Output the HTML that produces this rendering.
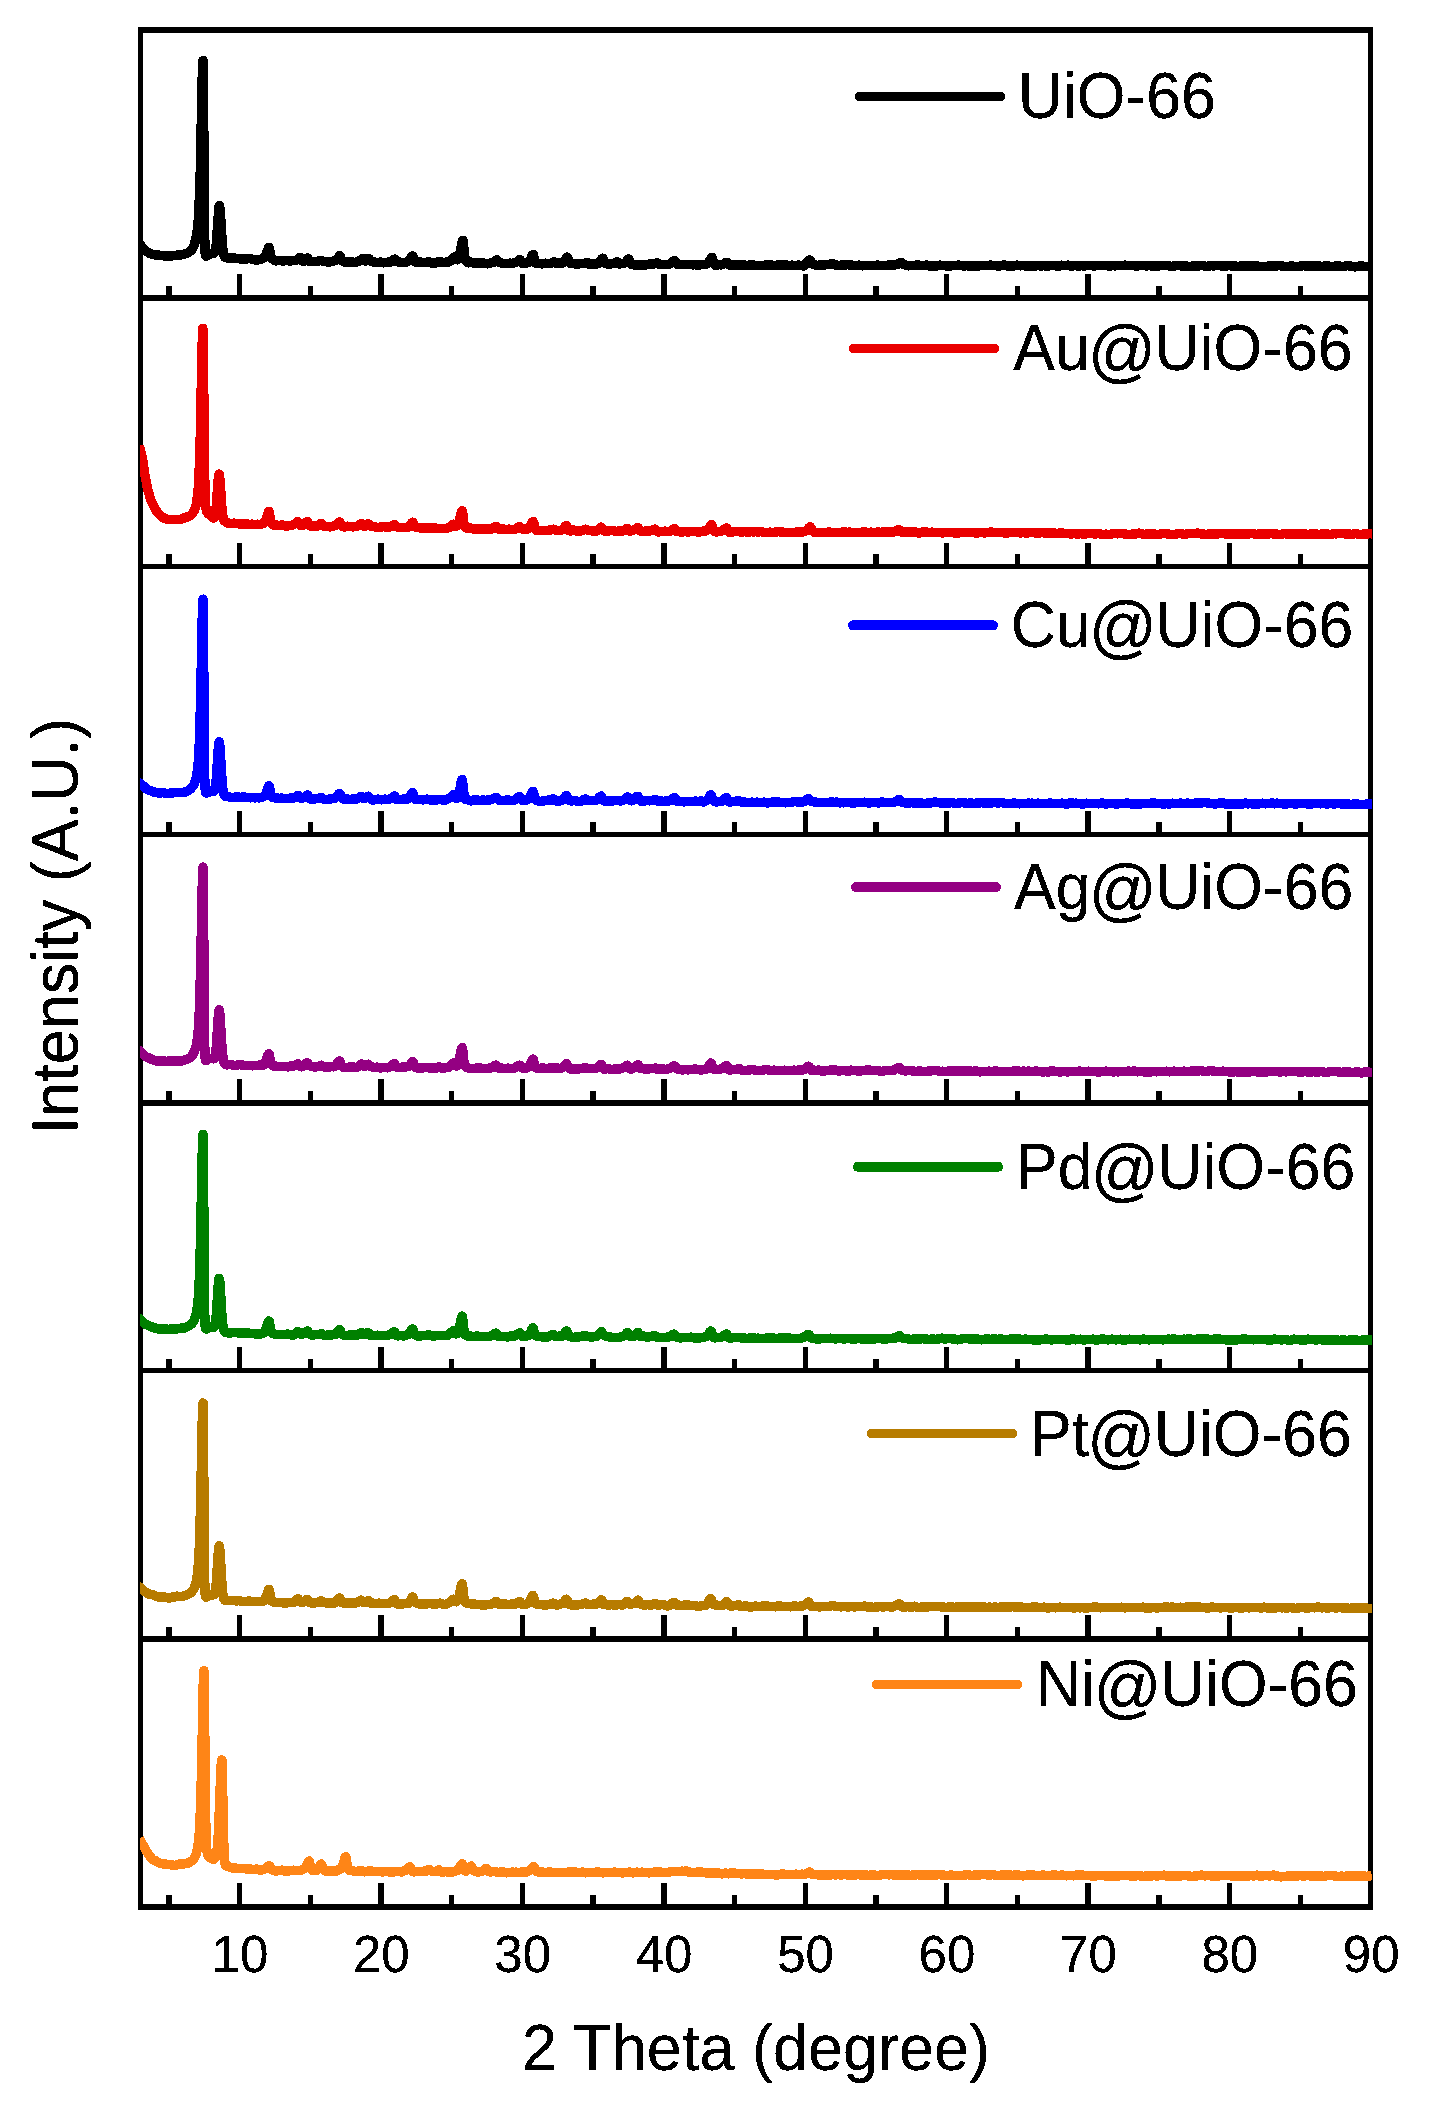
<!DOCTYPE html><html><head><meta charset="utf-8"><title>XRD patterns</title><style>html,body{margin:0;padding:0;background:#fff;overflow:hidden}svg{display:block}text{font-family:"Liberation Sans",Arial,sans-serif;fill:#000}</style></head><body>
<svg width="1437" height="2102" viewBox="0 0 1437 2102">
<defs><clipPath id="c"><rect x="140" y="0" width="1232" height="2102"/></clipPath><filter id="b" x="0" y="0" width="1" height="1"><feComponentTransfer><feFuncA type="discrete" tableValues="0 1 1"/></feComponentTransfer></filter></defs>
<rect width="1437" height="2102" fill="#fff"/>
<g fill="#000" shape-rendering="crispEdges">
<rect x="138" y="27" width="5" height="1883"/>
<rect x="1368" y="27" width="5" height="1883"/>
<rect x="138" y="27" width="1235" height="6"/>
<rect x="138" y="295" width="1235" height="6"/>
<rect x="138" y="564" width="1235" height="5"/>
<rect x="138" y="832" width="1235" height="5"/>
<rect x="138" y="1100" width="1235" height="6"/>
<rect x="138" y="1368" width="1235" height="5"/>
<rect x="138" y="1636" width="1235" height="6"/>
<rect x="138" y="1904" width="1235" height="6"/>
<rect x="166.2" y="286" width="5.4" height="9"/>
<rect x="236.9" y="274" width="5.4" height="21"/>
<rect x="307.6" y="286" width="5.4" height="9"/>
<rect x="378.3" y="274" width="5.4" height="21"/>
<rect x="449.0" y="286" width="5.4" height="9"/>
<rect x="519.7" y="274" width="5.4" height="21"/>
<rect x="590.4" y="286" width="5.4" height="9"/>
<rect x="661.1" y="274" width="5.4" height="21"/>
<rect x="731.8" y="286" width="5.4" height="9"/>
<rect x="802.5" y="274" width="5.4" height="21"/>
<rect x="873.2" y="286" width="5.4" height="9"/>
<rect x="943.9" y="274" width="5.4" height="21"/>
<rect x="1014.7" y="286" width="5.4" height="9"/>
<rect x="1085.4" y="274" width="5.4" height="21"/>
<rect x="1156.1" y="286" width="5.4" height="9"/>
<rect x="1226.8" y="274" width="5.4" height="21"/>
<rect x="1297.5" y="286" width="5.4" height="9"/>
<rect x="166.2" y="554" width="5.4" height="10"/>
<rect x="236.9" y="543" width="5.4" height="21"/>
<rect x="307.6" y="554" width="5.4" height="10"/>
<rect x="378.3" y="543" width="5.4" height="21"/>
<rect x="449.0" y="554" width="5.4" height="10"/>
<rect x="519.7" y="543" width="5.4" height="21"/>
<rect x="590.4" y="554" width="5.4" height="10"/>
<rect x="661.1" y="543" width="5.4" height="21"/>
<rect x="731.8" y="554" width="5.4" height="10"/>
<rect x="802.5" y="543" width="5.4" height="21"/>
<rect x="873.2" y="554" width="5.4" height="10"/>
<rect x="943.9" y="543" width="5.4" height="21"/>
<rect x="1014.7" y="554" width="5.4" height="10"/>
<rect x="1085.4" y="543" width="5.4" height="21"/>
<rect x="1156.1" y="554" width="5.4" height="10"/>
<rect x="1226.8" y="543" width="5.4" height="21"/>
<rect x="1297.5" y="554" width="5.4" height="10"/>
<rect x="166.2" y="822" width="5.4" height="10"/>
<rect x="236.9" y="811" width="5.4" height="21"/>
<rect x="307.6" y="822" width="5.4" height="10"/>
<rect x="378.3" y="811" width="5.4" height="21"/>
<rect x="449.0" y="822" width="5.4" height="10"/>
<rect x="519.7" y="811" width="5.4" height="21"/>
<rect x="590.4" y="822" width="5.4" height="10"/>
<rect x="661.1" y="811" width="5.4" height="21"/>
<rect x="731.8" y="822" width="5.4" height="10"/>
<rect x="802.5" y="811" width="5.4" height="21"/>
<rect x="873.2" y="822" width="5.4" height="10"/>
<rect x="943.9" y="811" width="5.4" height="21"/>
<rect x="1014.7" y="822" width="5.4" height="10"/>
<rect x="1085.4" y="811" width="5.4" height="21"/>
<rect x="1156.1" y="822" width="5.4" height="10"/>
<rect x="1226.8" y="811" width="5.4" height="21"/>
<rect x="1297.5" y="822" width="5.4" height="10"/>
<rect x="166.2" y="1091" width="5.4" height="9"/>
<rect x="236.9" y="1079" width="5.4" height="21"/>
<rect x="307.6" y="1091" width="5.4" height="9"/>
<rect x="378.3" y="1079" width="5.4" height="21"/>
<rect x="449.0" y="1091" width="5.4" height="9"/>
<rect x="519.7" y="1079" width="5.4" height="21"/>
<rect x="590.4" y="1091" width="5.4" height="9"/>
<rect x="661.1" y="1079" width="5.4" height="21"/>
<rect x="731.8" y="1091" width="5.4" height="9"/>
<rect x="802.5" y="1079" width="5.4" height="21"/>
<rect x="873.2" y="1091" width="5.4" height="9"/>
<rect x="943.9" y="1079" width="5.4" height="21"/>
<rect x="1014.7" y="1091" width="5.4" height="9"/>
<rect x="1085.4" y="1079" width="5.4" height="21"/>
<rect x="1156.1" y="1091" width="5.4" height="9"/>
<rect x="1226.8" y="1079" width="5.4" height="21"/>
<rect x="1297.5" y="1091" width="5.4" height="9"/>
<rect x="166.2" y="1359" width="5.4" height="9"/>
<rect x="236.9" y="1347" width="5.4" height="21"/>
<rect x="307.6" y="1359" width="5.4" height="9"/>
<rect x="378.3" y="1347" width="5.4" height="21"/>
<rect x="449.0" y="1359" width="5.4" height="9"/>
<rect x="519.7" y="1347" width="5.4" height="21"/>
<rect x="590.4" y="1359" width="5.4" height="9"/>
<rect x="661.1" y="1347" width="5.4" height="21"/>
<rect x="731.8" y="1359" width="5.4" height="9"/>
<rect x="802.5" y="1347" width="5.4" height="21"/>
<rect x="873.2" y="1359" width="5.4" height="9"/>
<rect x="943.9" y="1347" width="5.4" height="21"/>
<rect x="1014.7" y="1359" width="5.4" height="9"/>
<rect x="1085.4" y="1347" width="5.4" height="21"/>
<rect x="1156.1" y="1359" width="5.4" height="9"/>
<rect x="1226.8" y="1347" width="5.4" height="21"/>
<rect x="1297.5" y="1359" width="5.4" height="9"/>
<rect x="166.2" y="1627" width="5.4" height="9"/>
<rect x="236.9" y="1615" width="5.4" height="21"/>
<rect x="307.6" y="1627" width="5.4" height="9"/>
<rect x="378.3" y="1615" width="5.4" height="21"/>
<rect x="449.0" y="1627" width="5.4" height="9"/>
<rect x="519.7" y="1615" width="5.4" height="21"/>
<rect x="590.4" y="1627" width="5.4" height="9"/>
<rect x="661.1" y="1615" width="5.4" height="21"/>
<rect x="731.8" y="1627" width="5.4" height="9"/>
<rect x="802.5" y="1615" width="5.4" height="21"/>
<rect x="873.2" y="1627" width="5.4" height="9"/>
<rect x="943.9" y="1615" width="5.4" height="21"/>
<rect x="1014.7" y="1627" width="5.4" height="9"/>
<rect x="1085.4" y="1615" width="5.4" height="21"/>
<rect x="1156.1" y="1627" width="5.4" height="9"/>
<rect x="1226.8" y="1615" width="5.4" height="21"/>
<rect x="1297.5" y="1627" width="5.4" height="9"/>
<rect x="166.2" y="1895" width="5.4" height="9"/>
<rect x="236.9" y="1883" width="5.4" height="21"/>
<rect x="307.6" y="1895" width="5.4" height="9"/>
<rect x="378.3" y="1883" width="5.4" height="21"/>
<rect x="449.0" y="1895" width="5.4" height="9"/>
<rect x="519.7" y="1883" width="5.4" height="21"/>
<rect x="590.4" y="1895" width="5.4" height="9"/>
<rect x="661.1" y="1883" width="5.4" height="21"/>
<rect x="731.8" y="1895" width="5.4" height="9"/>
<rect x="802.5" y="1883" width="5.4" height="21"/>
<rect x="873.2" y="1895" width="5.4" height="9"/>
<rect x="943.9" y="1883" width="5.4" height="21"/>
<rect x="1014.7" y="1895" width="5.4" height="9"/>
<rect x="1085.4" y="1883" width="5.4" height="21"/>
<rect x="1156.1" y="1895" width="5.4" height="9"/>
<rect x="1226.8" y="1883" width="5.4" height="21"/>
<rect x="1297.5" y="1895" width="5.4" height="9"/>
</g>
<g clip-path="url(#c)" shape-rendering="crispEdges" fill="none" stroke-width="9.5" stroke-linejoin="round" stroke-linecap="butt">
<path d="M136.0,241.5 L138.4,243.5 L140.0,244.5 L146.0,251.1 L149.0,253.0 L153.2,254.7 L158.4,255.1 L160.6,255.5 L163.0,255.6 L165.2,256.0 L168.2,256.0 L170.2,255.8 L172.2,255.9 L175.0,255.4 L181.4,254.8 L186.8,253.3 L189.2,251.9 L191.2,250.4 L192.8,248.2 L194.0,245.6 L195.8,239.2 L197.2,230.9 L198.2,220.7 L199.0,207.6 L200.2,174.6 L202.2,79.8 L202.6,65.8 L203.0,60.6 L203.4,85.7 L204.6,235.0 L205.2,253.6 L205.6,255.9 L206.0,256.2 L211.0,253.6 L213.4,253.4 L214.0,253.2 L214.6,252.6 L215.2,251.2 L215.8,248.2 L216.4,243.1 L218.6,210.7 L219.0,206.9 L219.4,205.6 L219.8,207.1 L220.2,211.0 L222.6,247.5 L223.4,253.6 L223.8,255.3 L224.4,256.8 L225.2,257.4 L228.6,258.3 L232.4,257.8 L235.8,258.3 L238.0,258.3 L240.0,258.9 L242.2,258.8 L244.8,259.2 L249.8,258.3 L250.6,258.5 L252.6,259.5 L256.6,260.1 L257.8,260.0 L260.0,259.5 L263.2,258.3 L264.6,257.4 L265.8,255.6 L268.2,248.5 L268.6,247.7 L269.0,247.4 L269.4,248.4 L270.6,255.5 L271.4,257.9 L272.0,258.6 L274.2,260.2 L275.0,260.6 L276.0,260.8 L279.6,260.6 L281.8,260.8 L284.8,260.8 L287.2,260.4 L290.0,261.1 L292.2,260.7 L294.6,260.7 L296.8,260.0 L299.2,257.6 L300.0,257.3 L300.4,257.7 L301.8,260.4 L302.4,261.0 L303.0,261.3 L303.6,261.3 L304.2,261.0 L306.6,258.4 L307.4,258.1 L307.8,258.4 L309.2,261.1 L310.0,261.6 L312.6,261.3 L316.8,261.5 L319.4,260.6 L321.0,260.3 L321.6,260.4 L323.4,261.6 L325.6,261.6 L327.8,262.0 L329.0,262.1 L332.8,261.2 L336.2,260.2 L337.4,258.9 L339.2,256.0 L339.8,255.6 L340.2,256.2 L341.4,259.5 L342.0,260.5 L343.2,261.4 L345.0,262.1 L350.8,261.8 L354.2,262.4 L357.4,261.9 L359.4,261.1 L362.0,258.8 L362.8,258.3 L363.2,258.6 L364.4,260.5 L365.0,260.9 L366.0,260.8 L368.2,258.9 L369.0,258.6 L369.4,258.9 L370.6,260.8 L371.2,261.4 L376.6,262.6 L380.6,262.1 L383.8,262.8 L386.8,262.4 L388.8,262.0 L390.6,261.9 L391.8,261.3 L394.0,259.4 L394.8,259.1 L396.4,261.2 L397.2,261.7 L404.0,262.7 L406.4,262.0 L408.6,260.8 L409.6,259.8 L411.8,256.6 L412.4,256.1 L412.8,256.0 L413.2,256.6 L414.8,261.1 L415.4,261.8 L416.4,262.3 L417.4,262.3 L419.4,261.8 L423.6,262.6 L427.2,262.1 L430.0,262.2 L430.8,262.3 L432.6,263.3 L433.4,263.4 L435.0,263.1 L437.4,262.1 L441.2,261.7 L443.0,262.6 L443.8,262.7 L446.2,262.0 L449.0,261.8 L450.2,261.3 L451.6,260.2 L453.8,257.4 L454.8,256.8 L455.4,257.1 L457.0,259.7 L457.4,259.8 L458.0,259.5 L458.8,257.8 L459.6,255.1 L462.0,242.8 L462.4,241.2 L462.8,240.5 L463.0,240.5 L463.2,241.4 L464.4,254.0 L465.0,258.3 L465.6,260.4 L466.6,261.9 L467.6,262.6 L468.4,262.8 L471.2,262.2 L473.6,262.9 L477.2,263.2 L481.8,262.7 L487.6,263.8 L488.6,263.7 L490.6,262.9 L493.4,262.3 L494.4,261.8 L496.2,260.3 L497.0,259.9 L497.4,260.2 L498.4,261.7 L499.2,262.4 L503.6,263.5 L506.0,263.3 L508.0,263.6 L510.0,263.2 L511.8,263.4 L512.8,263.3 L516.6,262.1 L519.2,259.9 L520.0,259.6 L520.4,260.0 L521.6,262.4 L522.4,263.2 L523.4,263.4 L526.6,263.0 L528.2,262.4 L529.4,261.3 L530.4,259.6 L532.4,255.2 L532.8,254.7 L533.2,254.5 L533.6,255.4 L534.6,260.2 L535.2,262.1 L535.8,263.1 L536.6,263.5 L537.8,263.6 L540.0,263.4 L542.2,263.9 L545.6,263.2 L548.0,263.5 L550.0,263.4 L551.2,263.1 L553.2,262.0 L554.0,261.7 L554.4,261.9 L555.6,263.0 L556.2,263.2 L558.6,262.8 L561.2,263.2 L562.2,263.2 L563.0,262.8 L563.8,262.1 L566.2,258.0 L566.8,257.4 L567.2,257.2 L567.6,257.5 L569.2,262.2 L569.8,263.0 L570.8,263.5 L571.8,263.7 L574.0,263.3 L575.8,264.1 L576.6,264.2 L578.6,263.8 L582.2,263.7 L584.8,263.2 L586.8,262.4 L587.4,262.7 L589.0,264.4 L590.0,264.7 L590.8,264.6 L593.0,263.8 L596.6,264.0 L597.8,263.7 L599.2,262.5 L601.8,258.9 L602.8,258.3 L603.2,258.7 L604.4,262.0 L605.2,263.3 L606.2,263.8 L609.4,264.1 L610.4,264.0 L614.0,263.2 L617.0,261.9 L617.6,262.0 L618.8,263.5 L619.6,263.9 L624.4,263.1 L625.8,262.2 L627.8,259.5 L628.6,259.0 L629.0,259.4 L630.4,263.1 L631.2,264.1 L632.0,264.5 L635.6,265.1 L641.8,264.8 L645.0,265.1 L649.0,264.2 L652.6,264.2 L657.0,262.9 L659.2,264.1 L665.2,264.7 L667.2,264.3 L669.2,264.2 L670.2,263.8 L671.8,262.8 L673.8,260.8 L674.6,260.4 L676.6,263.8 L677.4,264.3 L678.6,264.6 L687.6,264.7 L690.4,264.5 L692.6,264.8 L695.2,264.7 L698.6,265.1 L703.8,264.3 L706.4,264.2 L707.2,263.9 L708.6,262.6 L711.2,258.0 L711.6,257.6 L712.0,257.5 L712.4,258.2 L714.0,263.9 L714.8,265.0 L715.8,265.3 L718.4,264.7 L720.8,264.8 L722.0,264.7 L723.0,264.3 L725.2,262.9 L726.6,262.5 L727.2,262.6 L729.0,264.9 L729.6,265.2 L730.8,265.3 L732.2,265.2 L736.2,264.7 L739.0,265.3 L741.8,264.8 L747.4,265.4 L749.6,265.0 L752.8,264.9 L755.6,265.4 L760.0,265.6 L764.8,265.3 L767.2,264.7 L769.6,265.1 L771.8,265.2 L774.4,265.7 L778.2,264.9 L780.4,265.2 L786.2,265.0 L789.0,265.6 L791.6,265.2 L795.8,265.4 L798.2,265.1 L800.8,265.4 L803.4,266.0 L804.6,265.4 L808.6,260.6 L809.2,260.2 L809.8,260.0 L810.4,260.3 L811.8,263.1 L812.6,264.1 L815.4,265.1 L817.4,265.5 L819.8,265.1 L822.4,265.3 L824.8,264.8 L828.4,264.7 L832.0,263.5 L832.4,263.5 L834.2,264.7 L838.6,265.5 L840.8,265.1 L843.0,265.2 L845.2,264.8 L848.2,264.7 L850.8,265.2 L856.6,265.4 L858.8,265.2 L862.6,265.8 L865.0,265.4 L868.6,265.3 L873.0,265.5 L877.2,265.2 L886.6,265.5 L889.6,264.7 L893.8,265.0 L897.4,264.3 L898.4,263.9 L901.0,262.3 L901.4,262.5 L902.6,263.8 L903.4,264.4 L908.4,265.8 L910.8,265.6 L912.8,265.7 L917.4,265.0 L919.6,265.3 L921.6,265.3 L923.8,265.6 L926.4,265.0 L929.0,265.8 L934.0,265.9 L936.2,266.1 L937.2,265.9 L939.8,265.1 L942.4,265.6 L947.0,265.9 L953.8,265.7 L959.0,265.1 L961.8,265.7 L963.6,265.9 L964.6,265.9 L966.6,265.5 L969.0,266.0 L973.6,265.8 L977.2,266.3 L978.0,266.2 L980.4,265.4 L983.4,265.7 L990.0,265.2 L993.2,265.3 L998.8,266.1 L1000.4,265.8 L1002.8,265.1 L1004.2,265.0 L1005.4,265.2 L1007.6,266.1 L1008.6,266.3 L1011.8,265.8 L1014.2,265.8 L1017.0,265.2 L1020.4,265.8 L1023.8,265.6 L1026.2,266.0 L1028.4,265.7 L1031.0,266.1 L1033.6,265.8 L1035.8,265.9 L1038.2,265.4 L1041.0,266.2 L1043.6,265.5 L1046.4,266.1 L1048.8,266.0 L1051.2,265.4 L1054.2,265.6 L1058.4,266.3 L1059.2,266.2 L1061.6,265.2 L1064.6,265.5 L1067.8,265.2 L1068.8,265.3 L1070.8,266.1 L1071.6,266.2 L1074.6,265.4 L1077.8,266.0 L1081.8,265.7 L1084.4,266.0 L1087.4,265.5 L1091.6,265.7 L1093.8,266.1 L1097.0,265.5 L1102.8,265.3 L1110.0,266.1 L1112.4,265.5 L1115.0,265.9 L1117.4,265.4 L1121.0,265.5 L1125.0,265.2 L1128.2,265.5 L1130.6,265.3 L1133.2,265.7 L1137.8,265.9 L1140.0,265.5 L1145.4,265.8 L1150.4,265.7 L1153.4,266.3 L1155.6,265.9 L1158.0,266.0 L1162.2,265.3 L1168.0,265.7 L1170.8,266.5 L1177.2,265.5 L1180.0,265.6 L1182.8,266.3 L1186.4,266.0 L1189.2,266.5 L1192.6,266.1 L1201.2,265.7 L1203.2,265.7 L1205.2,266.3 L1206.0,266.3 L1208.8,266.2 L1211.2,265.7 L1213.8,265.9 L1217.8,265.3 L1223.6,266.2 L1229.4,265.5 L1231.6,265.9 L1234.2,265.8 L1237.8,266.5 L1241.8,265.7 L1246.4,266.1 L1252.0,265.9 L1254.2,266.2 L1256.4,265.7 L1258.8,266.4 L1260.2,266.5 L1263.2,266.3 L1265.8,266.5 L1268.2,266.1 L1270.4,266.0 L1272.6,265.7 L1275.8,266.1 L1279.8,265.4 L1282.2,266.1 L1288.2,266.6 L1291.2,265.8 L1295.8,266.6 L1300.4,266.2 L1303.0,265.5 L1305.2,265.9 L1308.2,266.0 L1311.6,265.8 L1315.0,266.4 L1318.6,265.6 L1320.8,266.6 L1321.6,266.7 L1324.6,265.9 L1325.8,265.8 L1332.4,266.6 L1338.0,265.8 L1342.8,266.5 L1346.8,265.7 L1349.8,265.8 L1355.0,266.9 L1357.4,266.4 L1359.2,266.2 L1361.4,265.8 L1364.4,266.4 L1366.6,266.4 L1370.0,266.8 L1371.0,266.7 L1372.0,266.4" stroke="#000000"/>
<path d="M139.2,445.8 L142.4,458.0 L144.4,472.2 L147.6,489.0 L150.6,499.4 L154.0,506.9 L156.4,510.9 L158.0,513.2 L162.0,517.0 L166.0,519.0 L170.0,519.6 L173.6,519.7 L176.4,519.4 L178.6,519.5 L181.4,519.1 L183.6,518.1 L186.0,517.5 L188.2,516.4 L190.0,515.9 L191.4,514.6 L194.0,511.2 L195.0,509.0 L195.8,506.5 L197.0,500.3 L198.2,488.8 L199.0,475.6 L200.2,441.0 L202.2,343.5 L202.8,328.4 L203.0,329.4 L203.2,339.6 L204.6,473.7 L205.2,497.6 L205.6,504.8 L206.0,508.5 L206.8,511.7 L207.8,513.3 L209.8,514.8 L212.4,517.4 L213.2,518.0 L214.0,517.9 L214.8,516.5 L215.4,514.0 L216.0,509.5 L218.2,479.8 L218.8,474.7 L219.0,474.1 L219.2,474.2 L219.6,476.2 L220.0,480.3 L222.0,509.7 L223.0,517.7 L223.6,519.9 L224.4,521.1 L228.2,523.1 L229.6,523.6 L231.2,523.6 L234.2,523.1 L236.6,523.7 L240.0,523.8 L242.2,524.2 L244.4,523.8 L246.6,523.8 L249.4,524.5 L251.8,524.2 L255.6,524.4 L257.6,524.2 L259.6,524.6 L260.4,524.5 L263.6,523.4 L264.8,522.3 L266.0,519.7 L268.2,512.6 L268.6,511.8 L269.0,511.5 L269.4,512.6 L270.4,519.3 L271.2,522.9 L272.0,524.3 L272.6,524.8 L273.4,525.0 L276.0,524.9 L279.0,525.5 L282.2,524.9 L285.6,525.9 L290.2,525.7 L291.8,525.3 L293.8,524.3 L295.4,523.3 L297.0,521.9 L297.8,521.6 L298.2,521.9 L299.8,524.9 L300.8,525.6 L301.8,525.7 L302.8,525.4 L303.8,524.8 L306.4,522.1 L307.4,521.6 L307.8,521.9 L309.4,525.2 L310.2,526.0 L311.0,526.4 L314.0,525.8 L317.0,526.3 L318.0,525.8 L320.2,523.8 L321.2,523.4 L321.8,523.8 L323.0,525.5 L324.0,526.1 L330.0,526.8 L333.8,526.0 L336.0,525.3 L337.0,524.5 L338.8,522.2 L339.6,521.9 L340.0,522.1 L341.2,524.9 L341.8,525.8 L342.8,526.5 L344.4,526.9 L345.2,526.9 L347.6,526.2 L349.6,526.6 L353.0,526.8 L354.6,526.7 L357.6,525.9 L360.2,524.0 L361.2,523.6 L361.8,524.0 L363.2,525.9 L364.0,526.4 L365.0,526.1 L367.2,524.1 L368.2,523.8 L368.6,523.9 L369.6,525.3 L370.4,526.0 L375.0,526.9 L377.2,527.6 L383.6,526.7 L387.4,527.3 L388.6,527.3 L391.8,526.2 L394.4,524.6 L394.8,524.8 L396.2,526.5 L397.4,527.1 L400.2,527.6 L404.0,527.5 L406.2,527.6 L407.6,527.4 L408.8,526.7 L409.8,525.6 L411.6,523.0 L412.6,522.2 L412.8,522.3 L413.2,522.9 L414.6,526.3 L415.2,527.0 L415.8,527.3 L417.6,527.4 L421.2,528.0 L428.2,528.2 L434.0,527.9 L437.6,528.4 L443.2,528.7 L449.4,527.7 L450.4,527.0 L452.4,524.8 L453.4,524.2 L454.0,524.4 L455.2,525.8 L455.8,526.2 L456.6,526.2 L457.2,525.8 L458.0,524.7 L458.8,522.8 L461.4,512.2 L461.8,511.1 L462.2,510.7 L462.6,512.1 L464.0,523.7 L464.4,525.5 L465.0,527.0 L465.6,527.6 L466.8,528.1 L467.8,528.3 L471.0,528.2 L474.2,529.3 L476.8,528.7 L481.2,529.1 L483.6,528.7 L486.0,529.1 L492.2,528.8 L493.2,528.4 L495.0,526.7 L496.0,526.3 L496.6,526.7 L498.2,528.8 L499.6,529.4 L503.0,529.0 L506.0,529.5 L509.0,529.2 L514.4,529.5 L515.6,529.0 L518.4,527.1 L519.6,526.6 L520.0,526.8 L521.2,528.3 L522.0,528.8 L525.0,529.2 L526.8,529.2 L528.2,528.7 L529.4,527.6 L530.4,526.2 L532.4,522.2 L532.8,521.8 L533.2,521.7 L533.6,522.3 L535.2,528.9 L535.8,529.9 L536.4,530.3 L543.6,530.5 L549.6,530.2 L553.6,529.2 L556.8,530.5 L558.6,530.7 L561.0,530.1 L562.4,529.4 L563.6,528.3 L565.6,526.0 L566.4,525.6 L567.0,526.4 L568.4,529.9 L569.4,530.8 L570.6,530.9 L573.8,530.0 L576.0,530.8 L579.0,531.3 L580.2,531.1 L585.8,529.2 L587.8,530.1 L589.2,530.4 L591.8,530.8 L596.4,531.1 L597.2,530.9 L598.0,530.4 L600.2,527.7 L601.2,527.1 L601.6,527.3 L602.8,529.7 L603.6,530.7 L604.4,531.1 L606.4,531.5 L609.0,530.9 L611.6,530.5 L612.6,530.6 L616.4,531.4 L620.4,530.7 L623.0,530.9 L624.2,530.5 L626.6,528.6 L627.4,528.3 L627.8,528.6 L629.2,530.6 L629.8,531.0 L630.6,531.0 L634.0,530.0 L635.4,529.2 L637.2,527.6 L637.8,527.4 L638.2,527.7 L639.4,530.0 L640.0,530.8 L640.6,531.1 L642.8,531.4 L646.6,530.9 L649.2,531.1 L651.8,530.6 L652.8,530.2 L654.2,529.3 L655.0,529.1 L655.6,529.3 L657.4,531.4 L658.6,531.9 L664.4,531.2 L666.4,531.3 L669.2,531.6 L670.6,531.1 L673.2,529.0 L674.2,528.6 L674.8,528.9 L675.8,530.6 L676.6,531.3 L679.8,531.9 L682.4,532.0 L684.8,531.6 L688.0,532.0 L690.8,531.5 L694.0,531.5 L699.2,532.0 L701.2,531.7 L703.4,531.1 L705.4,531.0 L706.4,530.6 L708.4,528.9 L710.8,525.3 L711.6,524.7 L712.0,525.2 L713.6,530.2 L714.2,531.1 L715.2,531.7 L716.6,532.0 L718.8,531.4 L721.2,531.2 L722.4,530.6 L725.6,528.4 L726.4,528.1 L727.0,528.5 L728.6,531.7 L729.2,532.1 L730.2,532.3 L731.6,532.2 L734.0,531.6 L739.0,531.7 L741.6,532.3 L744.4,531.5 L747.4,532.4 L751.2,531.6 L753.6,531.9 L755.8,531.7 L758.2,531.9 L761.8,531.6 L764.4,532.5 L765.4,532.7 L767.8,532.6 L769.8,532.2 L772.0,532.4 L774.6,532.4 L777.6,531.6 L785.4,532.5 L789.2,532.7 L793.0,532.3 L802.2,532.1 L804.0,531.7 L806.4,530.5 L807.4,529.5 L809.0,527.6 L810.0,526.8 L810.6,527.2 L812.6,530.9 L813.8,532.0 L817.0,532.4 L819.6,532.3 L821.6,532.7 L823.4,532.3 L826.4,532.4 L829.0,532.0 L832.4,532.6 L834.6,532.4 L839.8,532.4 L844.2,531.8 L847.0,532.4 L849.8,532.1 L853.2,532.6 L860.6,532.5 L863.0,532.0 L864.6,531.9 L868.4,532.7 L871.0,532.2 L875.8,532.4 L878.0,531.9 L880.2,532.4 L882.6,532.0 L885.2,532.3 L888.6,531.9 L893.2,532.1 L895.0,531.7 L897.6,529.9 L898.6,529.6 L899.6,529.9 L901.4,531.8 L902.8,532.4 L906.4,532.0 L914.8,531.8 L915.8,532.0 L917.8,532.9 L919.2,533.1 L920.4,532.8 L922.4,531.9 L923.4,531.8 L929.6,532.4 L932.2,532.2 L937.6,532.6 L939.8,532.4 L942.4,532.9 L946.8,532.3 L952.2,532.4 L956.4,533.3 L961.2,532.4 L964.2,532.6 L967.6,532.3 L969.8,532.6 L972.0,532.6 L977.8,533.0 L980.8,532.4 L983.8,532.9 L987.6,532.6 L990.4,532.0 L993.2,532.4 L1000.0,532.4 L1006.2,533.1 L1011.2,532.3 L1013.8,532.6 L1018.0,532.3 L1020.4,532.9 L1022.6,532.6 L1025.0,532.9 L1028.2,532.8 L1030.2,532.5 L1031.6,532.4 L1033.0,532.5 L1034.8,532.9 L1037.0,532.8 L1038.8,533.0 L1041.4,532.5 L1043.2,532.8 L1045.2,532.8 L1047.6,533.2 L1051.8,533.2 L1054.4,533.0 L1057.0,533.4 L1059.8,533.1 L1067.8,533.4 L1071.6,534.1 L1074.0,533.4 L1076.6,534.1 L1080.0,533.7 L1085.0,534.0 L1088.0,533.3 L1091.0,533.7 L1093.4,533.7 L1095.4,534.0 L1098.6,533.5 L1102.8,534.6 L1106.0,534.1 L1108.6,534.6 L1113.8,533.4 L1117.4,533.8 L1121.4,533.3 L1125.2,534.1 L1129.8,534.5 L1133.2,533.9 L1136.0,533.9 L1138.8,533.1 L1140.0,533.3 L1142.8,534.2 L1144.0,534.4 L1147.2,534.0 L1149.8,534.3 L1152.4,533.7 L1155.4,534.2 L1158.6,534.4 L1162.8,533.5 L1166.8,533.8 L1170.2,534.3 L1175.0,534.3 L1179.6,533.4 L1181.8,533.7 L1184.8,534.5 L1189.6,533.3 L1194.4,533.7 L1197.2,533.1 L1199.2,533.4 L1201.4,534.0 L1203.4,534.1 L1206.2,534.5 L1208.8,533.9 L1211.2,534.1 L1213.4,533.8 L1215.8,534.3 L1219.0,533.7 L1221.2,533.7 L1223.0,533.5 L1223.8,533.6 L1226.4,534.4 L1229.2,533.9 L1233.0,534.3 L1235.2,534.1 L1237.2,534.3 L1239.4,533.8 L1247.0,534.2 L1249.4,533.7 L1251.8,533.4 L1255.6,534.4 L1261.2,534.0 L1266.8,534.0 L1271.6,533.6 L1274.4,534.1 L1277.2,534.2 L1279.6,534.7 L1282.8,533.8 L1284.4,533.6 L1288.2,534.3 L1291.6,533.7 L1294.2,534.3 L1296.2,534.0 L1297.8,534.1 L1299.8,533.9 L1302.0,534.3 L1305.6,534.0 L1308.2,534.6 L1311.0,533.8 L1314.0,533.8 L1319.8,534.6 L1323.6,533.6 L1325.6,533.9 L1327.6,534.0 L1330.0,534.5 L1334.0,533.7 L1336.0,533.8 L1338.0,533.5 L1343.8,533.4 L1344.6,533.5 L1346.0,534.3 L1346.8,534.5 L1349.2,534.0 L1351.8,534.4 L1354.0,533.7 L1356.0,533.6 L1357.0,533.7 L1358.6,534.5 L1359.4,534.7 L1364.4,533.9 L1366.4,534.1 L1369.4,533.6 L1372.0,533.8" stroke="#EA0000"/>
<path d="M136.0,781.1 L137.2,781.8 L140.0,783.1 L141.6,784.8 L144.0,786.4 L146.0,788.5 L147.4,789.5 L148.4,790.0 L150.8,790.8 L153.0,791.9 L155.6,792.3 L157.6,792.9 L163.0,792.7 L166.2,793.6 L167.4,793.7 L170.2,793.2 L172.6,793.0 L176.2,792.3 L178.6,792.3 L182.0,792.6 L186.4,791.8 L189.0,790.2 L190.8,788.7 L193.6,785.1 L194.8,782.6 L196.4,776.9 L197.6,769.3 L198.4,760.5 L199.2,746.4 L200.6,701.2 L202.4,611.1 L202.8,600.7 L203.0,599.2 L203.4,624.1 L204.4,757.2 L204.8,781.3 L205.0,787.1 L205.4,791.9 L205.8,792.9 L206.2,793.0 L207.8,792.6 L210.8,791.1 L211.6,791.1 L213.6,791.6 L214.4,790.9 L215.0,789.3 L215.6,786.1 L216.2,780.7 L218.4,746.9 L218.8,742.9 L219.2,741.6 L219.6,743.1 L220.0,747.1 L222.2,783.0 L222.8,789.1 L223.4,792.8 L224.2,795.3 L225.0,796.2 L225.6,796.4 L228.0,796.3 L231.0,797.5 L232.2,797.5 L235.8,797.0 L240.2,797.3 L244.6,797.0 L247.2,797.6 L250.4,797.8 L252.8,797.6 L255.0,797.9 L256.8,797.6 L259.2,797.8 L263.2,796.8 L264.6,795.8 L265.8,794.1 L266.8,791.6 L268.2,787.0 L268.6,786.1 L269.0,785.7 L269.4,786.7 L270.8,794.7 L271.6,796.8 L272.2,797.3 L272.8,797.5 L276.0,798.0 L279.0,798.3 L281.8,798.2 L284.6,798.5 L289.0,798.4 L291.2,798.0 L293.2,798.3 L295.6,797.2 L297.4,795.7 L298.0,795.4 L300.0,797.8 L300.8,798.3 L301.6,798.4 L304.0,797.5 L306.6,795.4 L307.4,795.0 L307.8,795.3 L309.4,798.0 L310.2,798.7 L311.2,799.1 L315.0,798.9 L317.2,798.3 L319.6,798.2 L321.4,797.7 L324.0,799.1 L325.8,799.5 L330.2,799.0 L332.4,798.4 L335.0,798.2 L336.4,797.1 L338.6,794.0 L339.6,793.4 L340.0,793.8 L341.0,796.5 L341.8,798.0 L342.8,798.8 L344.0,799.1 L347.0,799.0 L349.6,799.5 L352.8,799.0 L354.8,799.4 L355.8,799.4 L357.0,798.9 L360.0,796.9 L361.4,796.4 L363.2,798.2 L363.8,798.5 L364.6,798.5 L365.8,798.0 L367.6,796.6 L368.4,796.2 L368.8,796.5 L370.6,798.9 L371.6,799.7 L372.6,800.1 L378.2,799.1 L381.4,799.8 L385.0,799.2 L388.0,799.6 L389.0,799.3 L391.2,798.3 L393.6,796.3 L394.4,795.9 L394.8,796.3 L396.0,798.7 L396.6,799.3 L397.2,799.5 L400.6,799.6 L403.2,799.2 L407.2,799.0 L408.4,798.7 L409.2,798.1 L409.8,797.3 L411.8,793.5 L412.6,792.7 L412.8,792.7 L413.2,793.6 L414.2,797.1 L414.8,798.5 L415.4,799.2 L416.2,799.5 L418.0,799.7 L420.2,799.3 L423.0,799.8 L427.0,799.2 L430.6,800.0 L433.2,799.9 L435.6,800.1 L439.8,799.4 L442.2,800.0 L445.2,800.1 L446.6,799.7 L450.2,797.5 L451.2,796.7 L452.8,795.0 L453.6,794.5 L454.0,794.8 L455.4,797.3 L456.0,798.1 L456.8,798.3 L457.4,798.0 L458.2,796.5 L458.8,794.6 L461.2,782.1 L461.8,779.9 L462.2,779.5 L462.6,781.1 L464.0,794.6 L464.8,798.2 L465.2,799.0 L465.8,799.5 L468.4,799.9 L471.0,800.9 L471.8,800.8 L473.8,799.7 L474.8,799.5 L479.4,800.6 L482.4,800.1 L485.2,800.3 L489.8,800.0 L491.6,799.5 L494.6,797.8 L496.2,797.3 L496.6,797.5 L498.2,799.6 L500.0,800.5 L504.8,800.4 L507.6,800.0 L510.4,800.4 L512.8,800.5 L514.0,800.2 L516.2,799.0 L518.6,796.8 L519.4,796.5 L520.0,796.9 L521.0,799.0 L521.8,800.1 L522.6,800.4 L525.2,800.5 L528.0,799.4 L529.2,798.4 L530.2,796.7 L532.2,792.1 L532.6,791.6 L533.0,791.5 L533.4,792.3 L534.6,797.5 L535.4,799.4 L536.8,800.4 L539.4,801.4 L540.4,801.5 L547.8,800.2 L550.2,800.4 L552.2,799.2 L553.2,799.0 L553.8,799.1 L555.2,800.5 L556.2,801.0 L557.0,801.1 L560.8,800.8 L562.2,800.2 L563.2,799.6 L564.0,798.6 L565.6,796.1 L566.2,795.5 L566.6,795.4 L568.4,799.2 L569.0,799.8 L570.0,800.5 L571.6,800.9 L574.6,800.6 L576.6,801.1 L580.2,801.5 L581.6,801.1 L584.2,799.3 L585.2,799.0 L585.8,799.1 L587.2,800.4 L588.0,800.7 L592.4,800.3 L595.6,800.5 L597.0,799.8 L600.0,796.7 L601.2,796.0 L601.8,796.7 L603.4,800.2 L604.2,800.9 L605.0,801.1 L607.2,800.9 L612.0,801.0 L614.6,800.6 L618.4,800.4 L620.6,800.9 L621.4,800.8 L624.2,799.6 L626.6,797.5 L627.4,797.1 L627.8,797.4 L629.6,800.2 L630.4,800.7 L631.4,800.8 L632.4,800.4 L634.2,799.2 L636.8,796.6 L637.6,796.3 L638.2,796.6 L639.4,799.5 L640.0,800.4 L641.0,801.1 L642.2,801.4 L643.2,801.4 L646.4,800.6 L649.6,800.8 L652.6,800.4 L655.4,799.6 L657.2,800.8 L658.6,801.2 L661.2,801.1 L663.6,801.3 L667.6,800.8 L669.6,800.8 L670.8,800.3 L673.2,798.0 L674.2,797.6 L674.8,798.0 L676.4,800.8 L677.4,801.4 L679.6,801.2 L684.0,801.8 L686.0,801.5 L688.4,801.7 L690.6,801.3 L693.0,801.4 L695.2,801.1 L698.0,801.5 L700.6,800.9 L701.4,801.0 L703.8,802.0 L704.8,801.6 L707.8,799.5 L708.6,798.4 L710.0,795.6 L710.8,794.9 L711.2,795.2 L712.4,799.0 L713.0,800.3 L714.0,801.2 L715.6,801.8 L719.8,801.7 L721.8,801.2 L723.4,800.3 L725.6,798.1 L726.4,797.6 L726.8,797.8 L727.0,798.1 L728.4,801.4 L728.8,801.8 L729.4,802.1 L735.0,801.4 L737.0,800.7 L738.0,800.6 L739.0,800.7 L740.8,801.8 L741.8,802.1 L744.2,802.0 L747.2,802.4 L750.2,802.4 L752.2,802.2 L754.2,802.4 L757.4,802.2 L759.8,802.4 L764.4,802.2 L767.4,802.9 L771.4,802.4 L773.8,801.8 L776.2,802.1 L778.4,802.1 L780.6,802.5 L783.0,802.3 L785.6,802.8 L788.2,802.3 L790.6,802.7 L792.6,802.0 L795.0,801.6 L797.8,802.0 L799.8,802.0 L802.2,802.2 L803.8,801.7 L807.4,799.1 L808.6,798.5 L809.0,798.7 L810.4,800.6 L811.2,801.3 L815.0,802.2 L817.8,802.3 L821.6,802.7 L824.2,802.4 L827.2,802.6 L828.4,802.5 L831.2,801.8 L832.2,802.0 L833.8,802.7 L836.6,802.1 L839.8,802.9 L841.8,802.7 L843.8,802.8 L846.2,802.3 L852.0,802.9 L855.0,802.9 L859.4,802.4 L861.8,802.5 L864.4,802.2 L867.4,802.8 L869.6,803.0 L873.2,802.3 L876.2,802.4 L878.6,803.0 L882.0,801.7 L884.8,802.7 L886.8,802.6 L888.8,802.7 L891.0,802.4 L893.0,802.7 L894.4,802.2 L898.6,799.7 L899.4,799.5 L899.8,799.7 L901.0,801.3 L901.8,802.1 L904.4,802.8 L908.2,803.2 L911.0,802.5 L913.6,803.0 L921.8,803.1 L924.8,803.5 L929.4,802.9 L931.4,802.8 L934.6,802.0 L940.0,802.9 L942.8,802.8 L944.8,803.2 L946.8,802.9 L949.0,803.0 L951.8,802.4 L955.4,803.5 L958.8,803.1 L961.2,802.7 L964.2,802.8 L967.2,803.5 L969.8,803.0 L973.8,803.4 L976.2,803.1 L978.6,803.2 L981.4,802.6 L983.8,803.1 L988.4,803.2 L990.8,803.1 L994.4,802.5 L997.8,803.0 L1002.2,802.5 L1004.6,803.4 L1005.6,803.5 L1008.6,803.6 L1013.4,803.1 L1017.0,803.3 L1019.6,803.8 L1023.2,803.4 L1026.0,803.6 L1028.4,803.1 L1030.4,803.3 L1032.4,803.2 L1035.0,803.7 L1037.6,803.2 L1044.4,803.5 L1047.8,803.3 L1050.4,803.0 L1054.6,803.7 L1056.8,803.5 L1059.0,803.7 L1061.8,803.1 L1063.4,803.4 L1066.6,804.4 L1067.6,804.1 L1069.8,802.9 L1070.8,802.7 L1073.6,803.3 L1076.4,803.2 L1079.4,803.7 L1083.4,803.9 L1086.4,803.2 L1089.0,803.4 L1092.4,803.4 L1098.4,803.8 L1102.0,803.0 L1105.8,804.0 L1109.6,803.4 L1117.8,804.0 L1120.4,803.4 L1122.8,803.5 L1125.6,803.2 L1127.8,803.2 L1130.2,803.8 L1134.2,803.9 L1137.6,803.8 L1141.0,803.9 L1143.8,803.5 L1149.2,803.6 L1151.2,803.2 L1154.6,803.0 L1157.0,803.5 L1159.4,803.5 L1163.6,804.0 L1166.8,803.7 L1169.4,803.9 L1172.6,803.2 L1175.0,803.6 L1177.0,803.3 L1181.0,803.2 L1183.2,803.4 L1187.6,803.2 L1191.6,803.5 L1196.4,803.1 L1199.6,803.3 L1203.4,802.5 L1206.6,802.7 L1210.6,803.6 L1214.8,803.9 L1216.2,803.8 L1219.0,803.1 L1222.6,802.9 L1223.4,803.0 L1225.8,804.0 L1229.6,804.1 L1231.8,803.9 L1234.2,804.1 L1240.2,803.9 L1242.4,804.2 L1245.6,803.1 L1248.0,803.8 L1250.2,803.7 L1252.6,803.9 L1254.6,803.8 L1257.0,804.2 L1262.4,803.2 L1265.4,803.8 L1267.4,803.3 L1269.8,803.4 L1272.0,802.9 L1274.4,803.8 L1276.8,803.2 L1279.0,803.4 L1280.8,803.3 L1284.0,804.0 L1285.6,804.2 L1288.2,803.7 L1290.6,803.5 L1296.4,804.1 L1299.4,803.4 L1307.2,803.8 L1309.8,804.3 L1315.4,803.3 L1320.4,803.8 L1324.0,803.4 L1327.2,804.1 L1330.8,803.4 L1334.2,804.1 L1336.6,803.4 L1337.6,803.3 L1342.0,804.1 L1347.4,803.7 L1350.2,804.6 L1352.6,804.2 L1355.0,804.2 L1357.4,804.0 L1360.8,804.5 L1363.8,804.6 L1365.0,804.5 L1367.8,803.8 L1370.8,804.3 L1372.0,804.2" stroke="#0000FF"/>
<path d="M136.0,1048.6 L137.4,1049.3 L140.0,1051.2 L144.2,1055.3 L146.0,1056.8 L149.0,1057.9 L152.2,1059.7 L157.2,1061.2 L159.6,1060.8 L164.2,1061.0 L167.0,1061.4 L169.4,1061.0 L173.2,1060.8 L175.6,1061.3 L178.2,1060.7 L181.8,1060.9 L183.2,1060.7 L188.6,1058.6 L190.6,1057.4 L191.8,1056.0 L193.0,1054.3 L195.0,1049.9 L196.4,1045.0 L197.6,1037.4 L198.4,1028.5 L199.2,1014.5 L200.6,969.5 L202.4,879.0 L202.8,868.5 L203.0,867.1 L203.4,891.9 L204.4,1025.1 L204.8,1049.2 L205.2,1058.1 L205.6,1060.4 L206.0,1060.6 L208.6,1059.0 L209.8,1058.5 L211.0,1058.4 L213.2,1058.8 L213.8,1058.8 L214.4,1058.2 L215.0,1056.6 L215.6,1053.5 L216.2,1048.1 L218.4,1015.0 L218.8,1011.1 L219.2,1009.8 L219.6,1011.1 L220.0,1015.0 L221.8,1044.6 L223.0,1057.6 L223.6,1060.9 L224.4,1063.2 L225.2,1064.2 L226.6,1064.8 L230.8,1064.6 L235.2,1065.5 L238.0,1064.8 L240.0,1064.7 L246.4,1065.6 L250.6,1065.6 L252.4,1065.8 L254.6,1065.5 L257.0,1065.6 L260.2,1065.0 L263.2,1065.1 L264.2,1064.4 L265.0,1063.2 L266.0,1060.8 L268.0,1055.0 L268.6,1053.9 L269.0,1053.7 L269.4,1054.7 L270.4,1060.8 L271.2,1063.9 L272.2,1065.3 L273.4,1066.1 L274.2,1066.4 L276.2,1066.2 L278.8,1066.5 L282.0,1066.3 L285.4,1066.5 L287.8,1066.9 L290.2,1066.2 L292.4,1066.1 L294.2,1065.8 L297.8,1063.8 L298.2,1064.0 L300.0,1066.4 L300.6,1066.7 L301.4,1066.8 L302.4,1066.5 L303.6,1065.8 L306.4,1063.2 L307.4,1062.8 L307.8,1063.1 L308.8,1064.9 L309.4,1065.5 L313.0,1066.8 L314.8,1066.9 L316.2,1066.8 L318.8,1066.3 L320.8,1065.3 L321.4,1065.2 L323.0,1066.5 L323.8,1066.9 L328.4,1067.2 L331.4,1066.5 L333.8,1066.8 L334.6,1066.6 L335.6,1065.7 L338.4,1061.7 L339.0,1061.1 L339.4,1060.9 L339.8,1061.2 L340.0,1061.6 L341.0,1064.7 L341.8,1066.3 L342.8,1067.0 L345.2,1067.4 L348.2,1067.4 L351.8,1066.6 L354.6,1067.4 L356.4,1067.4 L358.8,1066.4 L360.8,1064.4 L361.4,1064.0 L361.8,1064.2 L363.2,1065.9 L364.2,1066.3 L365.0,1066.3 L365.8,1066.0 L367.8,1064.6 L368.4,1064.3 L370.4,1066.3 L373.6,1067.4 L377.0,1067.2 L380.4,1067.9 L384.0,1067.6 L387.6,1067.8 L388.6,1067.6 L389.8,1067.0 L393.4,1063.9 L394.2,1063.5 L394.8,1063.9 L396.2,1066.6 L397.0,1067.3 L398.8,1067.4 L401.6,1067.2 L403.6,1067.3 L407.8,1066.6 L408.8,1066.2 L410.0,1065.0 L412.0,1061.9 L412.6,1061.5 L413.0,1061.8 L414.6,1066.5 L415.4,1067.3 L416.4,1067.7 L419.0,1068.1 L421.0,1067.8 L423.2,1067.8 L425.8,1067.5 L431.4,1068.2 L433.8,1067.8 L436.2,1068.0 L438.4,1067.0 L439.2,1066.9 L439.8,1067.0 L441.8,1068.0 L443.4,1068.2 L445.8,1067.6 L448.0,1067.4 L448.8,1067.1 L450.2,1066.0 L452.4,1063.7 L453.4,1063.1 L454.0,1063.4 L455.8,1065.9 L456.6,1066.1 L457.2,1065.7 L458.0,1064.3 L458.8,1061.9 L461.4,1049.4 L461.8,1048.1 L462.2,1047.5 L462.6,1049.1 L464.0,1062.2 L464.8,1065.6 L465.4,1066.6 L466.0,1067.0 L469.0,1068.2 L470.4,1068.4 L473.6,1068.4 L478.4,1068.0 L480.8,1068.1 L483.6,1068.7 L491.2,1067.9 L492.6,1067.4 L495.0,1065.5 L496.0,1065.1 L496.6,1065.4 L497.6,1067.2 L498.4,1068.0 L499.0,1068.1 L501.0,1067.7 L503.6,1068.6 L508.0,1068.2 L511.0,1068.4 L514.4,1068.2 L515.4,1067.7 L518.0,1065.7 L519.2,1065.2 L519.8,1065.3 L521.0,1067.2 L521.8,1067.9 L522.4,1068.0 L526.6,1067.9 L528.2,1067.3 L529.4,1066.1 L530.4,1064.2 L532.2,1059.9 L532.6,1059.3 L533.0,1059.1 L533.4,1059.9 L534.4,1064.3 L535.2,1066.6 L535.8,1067.5 L536.6,1068.2 L537.6,1068.6 L538.4,1068.7 L542.0,1067.9 L543.2,1067.9 L545.0,1068.5 L546.0,1068.6 L553.6,1067.6 L555.6,1068.3 L558.0,1068.1 L560.6,1068.5 L561.6,1068.1 L563.6,1066.8 L565.8,1064.0 L566.6,1063.5 L567.0,1064.1 L568.2,1067.2 L569.2,1068.4 L570.6,1068.9 L574.4,1069.2 L578.0,1069.0 L585.8,1067.6 L588.8,1068.7 L592.4,1068.6 L594.6,1068.7 L595.6,1068.4 L598.0,1067.1 L600.2,1064.7 L601.0,1064.3 L601.4,1064.4 L601.6,1064.7 L603.2,1068.5 L603.6,1068.9 L604.2,1069.1 L608.2,1068.6 L611.4,1069.4 L616.4,1068.9 L619.2,1069.3 L623.4,1067.7 L627.4,1065.2 L627.8,1065.5 L629.0,1067.7 L629.6,1068.4 L630.4,1068.9 L631.2,1069.0 L632.4,1068.6 L635.6,1066.4 L637.2,1065.0 L637.8,1064.7 L638.2,1064.9 L639.4,1067.3 L640.0,1068.1 L640.8,1068.4 L643.8,1068.9 L649.6,1068.8 L653.2,1068.6 L655.4,1068.0 L656.8,1069.0 L657.4,1069.2 L659.4,1069.0 L661.6,1069.2 L663.6,1069.0 L666.4,1069.5 L670.6,1068.1 L673.2,1066.2 L674.2,1065.9 L674.8,1066.3 L675.8,1067.9 L676.6,1068.7 L682.2,1069.9 L683.2,1069.9 L685.0,1069.6 L687.8,1069.8 L691.6,1069.6 L694.6,1068.9 L699.2,1069.8 L701.2,1070.0 L704.0,1069.3 L706.0,1069.1 L706.8,1068.8 L708.0,1067.4 L710.0,1063.8 L710.8,1063.0 L711.2,1063.4 L712.8,1068.0 L713.4,1068.8 L714.2,1069.2 L717.6,1069.7 L719.4,1069.5 L723.6,1068.0 L725.8,1065.8 L726.6,1065.4 L727.0,1065.8 L728.4,1068.9 L729.0,1069.6 L729.6,1070.0 L730.4,1070.0 L732.4,1069.7 L735.4,1069.7 L738.6,1068.4 L739.2,1068.6 L741.2,1070.0 L742.8,1070.5 L744.0,1070.7 L746.6,1070.4 L751.8,1069.5 L753.0,1069.6 L755.2,1070.4 L756.4,1070.5 L758.6,1070.3 L761.0,1070.5 L766.4,1069.5 L768.8,1070.2 L771.0,1070.5 L774.4,1070.2 L777.6,1070.7 L780.2,1070.3 L782.6,1070.4 L784.4,1070.2 L786.8,1070.5 L789.0,1070.3 L791.2,1070.4 L793.8,1070.2 L796.2,1070.4 L798.8,1069.9 L801.6,1070.3 L803.2,1069.9 L804.4,1069.4 L807.4,1066.7 L808.6,1066.2 L809.2,1066.8 L810.8,1069.7 L811.8,1070.6 L812.6,1070.6 L814.2,1070.2 L816.2,1070.4 L818.4,1070.1 L821.0,1070.9 L824.0,1071.0 L826.6,1070.6 L829.0,1070.6 L832.0,1069.7 L833.6,1070.1 L835.8,1070.0 L839.0,1071.0 L839.8,1071.0 L841.8,1070.5 L843.2,1070.4 L847.8,1071.2 L848.8,1071.1 L851.2,1070.2 L853.6,1070.5 L855.8,1070.4 L857.8,1071.0 L858.8,1071.1 L865.0,1070.4 L867.4,1069.8 L871.4,1070.4 L874.6,1070.6 L877.6,1070.4 L880.4,1071.4 L882.0,1071.6 L885.2,1070.6 L893.4,1070.3 L897.6,1068.1 L899.4,1067.6 L900.0,1068.0 L901.6,1070.0 L902.4,1070.4 L903.4,1070.7 L906.2,1070.9 L909.4,1070.4 L911.4,1070.6 L915.0,1071.5 L920.0,1071.0 L925.2,1071.6 L931.0,1070.8 L936.4,1070.6 L938.0,1070.8 L940.4,1071.6 L942.6,1071.2 L945.2,1071.6 L948.4,1071.0 L952.0,1071.1 L954.2,1070.8 L956.8,1071.0 L961.6,1070.8 L964.4,1071.0 L969.2,1070.8 L972.0,1071.3 L977.2,1071.1 L979.4,1071.8 L980.2,1071.9 L984.0,1071.3 L986.8,1071.5 L989.2,1071.2 L991.4,1071.4 L993.8,1071.2 L996.0,1070.8 L999.4,1071.6 L1000.8,1071.7 L1003.2,1071.3 L1005.8,1071.7 L1009.6,1071.4 L1012.2,1071.5 L1014.2,1070.8 L1015.0,1070.7 L1020.4,1071.4 L1023.2,1071.1 L1026.2,1071.5 L1028.6,1071.1 L1031.4,1071.7 L1036.0,1070.9 L1038.6,1071.5 L1041.2,1071.7 L1043.0,1072.0 L1045.6,1071.7 L1047.8,1072.1 L1048.8,1071.9 L1050.8,1071.0 L1051.8,1070.8 L1054.4,1071.3 L1056.6,1071.5 L1059.8,1072.1 L1063.6,1071.4 L1064.8,1071.5 L1067.2,1072.0 L1071.4,1071.3 L1074.0,1071.7 L1076.8,1071.7 L1079.0,1071.2 L1080.0,1071.1 L1084.4,1071.7 L1086.0,1071.7 L1088.4,1071.2 L1091.0,1071.7 L1094.2,1071.6 L1099.4,1072.0 L1101.6,1071.6 L1103.6,1071.7 L1105.8,1071.1 L1108.0,1071.4 L1110.2,1071.4 L1113.6,1071.9 L1116.0,1071.7 L1118.2,1071.8 L1120.4,1071.4 L1126.4,1071.4 L1129.0,1071.1 L1131.2,1071.4 L1133.6,1071.1 L1135.0,1071.2 L1137.2,1071.8 L1141.2,1071.4 L1144.4,1071.9 L1148.4,1072.1 L1154.0,1071.5 L1156.6,1071.8 L1159.6,1071.5 L1163.6,1071.7 L1166.4,1071.2 L1169.2,1071.8 L1174.2,1071.1 L1176.6,1071.7 L1178.8,1071.4 L1181.4,1071.7 L1184.0,1071.1 L1187.0,1071.6 L1190.0,1071.3 L1192.6,1070.7 L1198.4,1071.1 L1201.0,1070.5 L1201.8,1070.6 L1203.4,1071.2 L1204.4,1071.4 L1207.6,1071.2 L1209.8,1070.5 L1211.0,1070.3 L1212.0,1070.5 L1214.0,1071.5 L1215.0,1071.7 L1218.2,1071.4 L1223.0,1071.2 L1225.8,1071.7 L1230.0,1071.8 L1232.0,1072.2 L1234.8,1071.6 L1239.6,1072.1 L1242.0,1071.8 L1245.6,1071.8 L1248.2,1072.1 L1252.4,1071.6 L1256.0,1071.7 L1258.8,1072.2 L1263.4,1072.0 L1265.2,1072.1 L1268.0,1071.6 L1275.2,1071.3 L1277.2,1071.5 L1280.0,1072.2 L1283.2,1071.5 L1285.8,1071.8 L1290.2,1071.5 L1293.8,1071.7 L1296.0,1071.5 L1298.0,1071.9 L1301.4,1072.2 L1304.2,1071.6 L1306.2,1071.8 L1308.0,1071.8 L1310.0,1072.2 L1312.6,1071.7 L1317.0,1071.9 L1322.0,1071.6 L1323.0,1071.8 L1324.8,1072.5 L1325.8,1072.7 L1330.4,1071.5 L1332.8,1071.6 L1334.8,1071.4 L1341.2,1072.4 L1343.2,1072.1 L1345.2,1072.2 L1349.6,1072.1 L1352.6,1072.7 L1355.2,1072.1 L1356.6,1072.0 L1358.8,1072.2 L1361.6,1073.0 L1364.4,1072.0 L1368.0,1072.0 L1370.8,1072.7 L1372.0,1072.7" stroke="#940082"/>
<path d="M136.0,1316.4 L140.0,1318.7 L143.8,1323.1 L146.0,1324.7 L148.0,1325.1 L153.6,1327.8 L156.6,1328.3 L158.8,1329.1 L160.0,1329.3 L164.2,1328.7 L168.6,1329.4 L172.0,1328.9 L175.0,1329.4 L178.2,1328.5 L180.0,1328.4 L181.8,1328.1 L183.8,1328.2 L184.6,1328.0 L187.6,1326.7 L192.0,1323.5 L193.4,1321.6 L195.0,1317.9 L196.4,1313.1 L197.6,1305.3 L198.4,1296.5 L199.2,1282.5 L200.4,1245.5 L202.4,1146.2 L202.8,1135.9 L203.0,1134.5 L203.4,1159.5 L204.4,1293.0 L204.8,1317.2 L205.2,1326.1 L205.6,1328.5 L205.8,1328.9 L206.2,1329.0 L211.0,1327.2 L213.8,1327.2 L214.4,1326.7 L215.0,1325.1 L215.6,1321.9 L216.2,1316.4 L218.4,1283.2 L218.8,1279.5 L219.2,1278.3 L219.6,1279.9 L220.0,1284.0 L221.8,1313.7 L222.8,1324.9 L223.4,1328.6 L224.0,1330.8 L224.8,1332.1 L225.8,1332.6 L230.4,1333.0 L232.6,1332.6 L236.2,1332.4 L238.6,1333.1 L240.4,1333.0 L242.0,1333.2 L244.6,1332.7 L248.2,1333.0 L250.6,1333.6 L253.0,1333.5 L257.2,1334.1 L260.0,1334.0 L262.0,1333.6 L263.6,1332.9 L265.0,1331.1 L266.2,1328.4 L268.2,1322.1 L268.6,1321.3 L269.0,1321.0 L269.4,1322.0 L270.8,1330.4 L271.6,1332.7 L272.2,1333.4 L272.8,1333.7 L276.8,1334.6 L284.8,1334.6 L287.6,1334.1 L290.2,1334.8 L293.2,1335.0 L294.6,1334.4 L297.0,1332.0 L297.8,1331.6 L298.2,1331.8 L300.0,1333.9 L300.8,1334.2 L301.6,1334.3 L303.0,1333.7 L306.6,1331.3 L307.4,1331.0 L307.8,1331.3 L309.0,1333.5 L309.6,1334.2 L310.4,1334.6 L312.2,1335.1 L315.2,1334.6 L318.2,1334.6 L321.2,1333.7 L321.6,1333.8 L323.4,1335.0 L325.4,1335.3 L326.6,1335.2 L328.6,1334.9 L334.6,1334.7 L335.6,1334.4 L336.4,1333.7 L338.8,1330.1 L339.6,1329.5 L340.0,1329.9 L341.0,1332.7 L341.8,1334.1 L342.6,1334.6 L345.6,1335.5 L352.4,1334.8 L355.0,1335.5 L356.0,1335.5 L358.4,1334.3 L360.6,1332.8 L361.4,1332.5 L363.0,1334.2 L363.8,1334.5 L365.2,1334.0 L367.4,1332.6 L368.2,1332.6 L368.6,1332.9 L369.8,1334.8 L370.8,1335.4 L375.0,1335.5 L377.6,1335.2 L380.4,1335.6 L383.0,1335.3 L386.0,1335.5 L390.8,1334.4 L393.4,1332.1 L394.2,1331.7 L394.8,1332.1 L396.0,1334.6 L397.0,1335.7 L398.0,1335.9 L400.4,1335.6 L404.0,1335.9 L405.2,1335.6 L408.2,1334.4 L409.6,1332.8 L411.6,1329.8 L412.2,1329.2 L412.6,1329.1 L413.0,1329.5 L414.2,1333.2 L414.8,1334.4 L415.8,1335.3 L418.0,1336.1 L420.6,1336.0 L423.4,1335.5 L429.2,1335.0 L431.8,1335.9 L432.8,1336.1 L438.0,1335.4 L441.4,1335.6 L446.6,1335.3 L447.8,1335.1 L448.8,1334.6 L452.2,1331.5 L453.4,1330.8 L454.0,1331.2 L455.2,1333.2 L455.8,1333.8 L456.4,1333.9 L457.2,1333.4 L458.0,1332.0 L458.8,1329.8 L461.4,1317.8 L461.8,1316.6 L462.2,1316.1 L462.6,1317.7 L464.0,1330.5 L464.4,1332.6 L465.0,1334.3 L465.8,1335.3 L467.2,1336.0 L471.6,1336.2 L473.8,1336.5 L476.2,1336.2 L478.6,1336.2 L481.8,1336.6 L489.0,1336.4 L491.8,1335.8 L494.6,1333.5 L495.8,1333.2 L496.4,1333.3 L498.0,1335.8 L499.2,1336.7 L500.0,1336.7 L502.4,1336.4 L504.6,1336.5 L507.6,1336.9 L510.8,1336.0 L513.0,1336.2 L514.2,1336.0 L516.6,1334.8 L518.8,1333.1 L519.6,1332.8 L520.0,1333.1 L521.4,1335.4 L522.4,1336.2 L523.4,1336.4 L526.4,1336.2 L528.0,1335.6 L529.2,1334.4 L530.4,1332.5 L532.2,1328.5 L532.6,1328.0 L533.0,1327.8 L533.4,1328.6 L534.6,1333.7 L535.0,1334.8 L535.6,1335.7 L536.8,1336.2 L540.6,1336.6 L543.6,1337.3 L547.0,1337.1 L551.2,1335.1 L552.6,1334.7 L553.6,1334.8 L555.0,1336.1 L555.8,1336.5 L558.4,1336.2 L561.8,1336.3 L562.4,1336.0 L563.2,1335.3 L565.8,1331.6 L566.6,1331.1 L567.0,1331.8 L568.2,1335.0 L568.8,1335.9 L569.6,1336.5 L573.2,1337.5 L574.0,1337.4 L576.0,1336.7 L578.6,1337.1 L581.8,1336.1 L585.8,1335.6 L587.6,1336.3 L590.4,1336.9 L595.4,1336.7 L597.0,1336.1 L598.2,1335.3 L599.2,1334.3 L600.6,1332.3 L601.4,1331.7 L601.8,1332.2 L603.0,1334.6 L604.0,1335.5 L609.4,1337.0 L611.4,1337.2 L614.2,1337.7 L618.0,1337.6 L623.2,1336.3 L624.6,1335.5 L626.6,1333.1 L627.4,1332.7 L627.8,1333.0 L629.0,1335.4 L629.8,1336.3 L630.8,1336.6 L633.2,1336.5 L634.6,1335.7 L637.2,1332.9 L638.0,1332.5 L638.4,1333.0 L639.6,1335.5 L640.4,1336.3 L641.2,1336.4 L643.8,1336.1 L646.8,1337.1 L650.8,1336.7 L653.0,1335.9 L654.0,1335.8 L655.4,1336.1 L656.6,1337.1 L657.4,1337.4 L663.2,1337.3 L665.8,1337.6 L670.0,1336.5 L673.0,1334.4 L674.2,1334.1 L674.8,1334.4 L675.8,1336.2 L676.6,1337.0 L679.8,1337.9 L680.8,1337.9 L684.2,1337.3 L686.8,1337.6 L691.2,1337.2 L693.8,1337.8 L699.2,1338.0 L702.8,1337.4 L707.2,1336.1 L708.2,1335.0 L710.0,1331.7 L710.8,1331.0 L711.2,1331.3 L712.4,1335.2 L713.0,1336.6 L713.6,1337.3 L714.6,1337.8 L715.6,1337.8 L717.6,1337.5 L719.6,1337.7 L720.6,1337.5 L722.6,1336.4 L725.8,1334.1 L726.6,1333.9 L727.0,1334.3 L728.4,1337.2 L729.0,1337.8 L729.8,1338.1 L731.4,1338.1 L733.6,1337.4 L734.6,1337.3 L737.2,1337.7 L739.0,1337.6 L742.8,1338.1 L745.2,1338.2 L747.4,1338.5 L749.6,1338.1 L753.4,1337.9 L756.0,1338.3 L758.0,1338.2 L762.0,1338.5 L767.6,1338.1 L770.4,1338.3 L773.2,1338.0 L777.0,1338.5 L781.2,1337.7 L783.6,1338.2 L785.6,1338.0 L787.4,1338.2 L789.2,1338.1 L792.2,1338.6 L799.6,1338.7 L800.4,1338.5 L802.6,1337.5 L804.4,1337.0 L807.2,1334.7 L808.4,1334.3 L809.0,1334.6 L810.4,1336.9 L811.6,1338.0 L812.8,1338.4 L818.2,1339.3 L821.8,1338.4 L827.0,1338.7 L830.4,1338.2 L835.6,1338.9 L838.8,1338.5 L841.8,1338.6 L844.2,1339.0 L847.2,1338.6 L855.6,1339.0 L859.0,1338.3 L861.8,1339.2 L864.2,1338.9 L869.4,1339.0 L871.6,1338.7 L874.2,1339.0 L876.4,1338.5 L879.8,1338.4 L883.4,1339.2 L887.6,1338.8 L889.4,1338.5 L891.4,1338.5 L893.6,1338.0 L895.6,1338.0 L896.4,1337.6 L898.6,1336.0 L899.6,1335.7 L901.4,1337.4 L902.4,1338.0 L905.0,1338.6 L907.6,1338.6 L909.6,1339.4 L910.8,1339.6 L915.4,1338.8 L919.0,1339.1 L922.2,1338.6 L929.2,1339.4 L933.2,1338.9 L935.8,1339.5 L942.0,1338.2 L944.8,1339.0 L946.6,1338.7 L953.6,1338.8 L956.2,1339.6 L957.6,1339.8 L958.8,1339.7 L961.6,1338.9 L963.0,1338.7 L968.0,1338.7 L973.0,1339.2 L976.6,1338.9 L981.4,1339.8 L986.8,1338.8 L991.0,1339.4 L994.0,1338.8 L997.2,1339.3 L1000.4,1339.1 L1006.4,1339.5 L1011.8,1339.1 L1014.0,1339.2 L1016.8,1338.9 L1019.6,1339.0 L1022.8,1339.6 L1025.6,1339.1 L1028.6,1339.7 L1031.2,1339.7 L1034.4,1339.9 L1036.6,1339.8 L1039.6,1339.9 L1042.4,1339.4 L1044.4,1339.3 L1046.4,1339.0 L1050.8,1339.9 L1056.0,1339.4 L1059.8,1339.3 L1062.0,1339.5 L1064.6,1339.4 L1068.2,1340.3 L1069.4,1340.0 L1071.6,1339.0 L1072.4,1338.8 L1075.8,1339.8 L1080.6,1339.2 L1084.0,1340.3 L1087.0,1339.3 L1090.0,1339.4 L1092.8,1339.2 L1095.4,1340.0 L1096.4,1340.1 L1100.8,1339.2 L1102.8,1339.0 L1108.2,1339.9 L1111.8,1339.2 L1116.0,1339.8 L1120.4,1339.2 L1122.6,1340.2 L1123.6,1340.3 L1129.4,1339.2 L1135.0,1339.7 L1137.4,1339.4 L1140.0,1339.9 L1143.4,1339.1 L1149.2,1339.8 L1155.6,1339.4 L1158.4,1339.7 L1160.6,1339.6 L1163.0,1339.8 L1168.0,1339.2 L1171.0,1339.3 L1173.4,1338.8 L1177.0,1339.6 L1179.8,1339.3 L1182.0,1339.5 L1183.8,1339.2 L1185.8,1339.4 L1189.0,1338.8 L1191.8,1339.3 L1195.2,1339.5 L1197.4,1339.1 L1199.4,1339.1 L1201.6,1338.8 L1203.6,1339.0 L1205.8,1338.9 L1211.8,1339.7 L1214.8,1339.0 L1217.2,1339.2 L1219.4,1338.9 L1221.8,1339.5 L1224.2,1339.3 L1227.0,1340.1 L1230.2,1339.8 L1234.8,1340.3 L1237.6,1339.6 L1240.0,1339.7 L1242.0,1339.1 L1243.0,1338.9 L1245.2,1339.1 L1248.2,1339.6 L1253.6,1339.8 L1256.6,1339.3 L1259.6,1339.7 L1265.0,1339.5 L1269.0,1340.1 L1271.2,1340.0 L1273.8,1339.1 L1275.8,1339.3 L1277.8,1339.3 L1281.4,1340.0 L1286.0,1339.3 L1286.8,1339.5 L1288.2,1340.3 L1289.2,1340.5 L1291.2,1340.2 L1293.2,1339.4 L1294.2,1339.2 L1301.2,1339.9 L1305.4,1339.9 L1308.2,1339.2 L1310.4,1339.6 L1313.2,1339.5 L1316.2,1340.0 L1320.0,1339.4 L1323.2,1340.3 L1326.0,1339.7 L1329.4,1340.1 L1333.8,1340.2 L1336.4,1339.9 L1339.4,1340.3 L1344.0,1340.0 L1346.6,1340.5 L1352.6,1339.7 L1355.2,1340.1 L1357.2,1340.1 L1359.2,1340.5 L1362.8,1340.0 L1368.4,1340.2 L1372.0,1339.8" stroke="#008000"/>
<path d="M136.0,1584.9 L137.2,1585.5 L140.0,1587.5 L146.0,1592.4 L150.0,1594.6 L153.4,1594.9 L155.6,1596.1 L159.2,1597.2 L160.0,1597.2 L163.8,1596.7 L166.4,1597.6 L169.0,1597.9 L170.0,1597.8 L172.0,1597.1 L174.4,1597.2 L177.2,1596.2 L181.2,1596.6 L185.0,1595.6 L188.0,1594.4 L191.0,1592.5 L192.2,1591.4 L193.6,1589.2 L195.0,1586.1 L196.4,1580.8 L197.6,1572.9 L198.4,1564.1 L199.2,1550.2 L200.6,1505.0 L202.4,1414.7 L202.8,1404.3 L203.0,1403.0 L203.4,1427.9 L204.4,1561.6 L204.8,1585.7 L205.2,1594.6 L205.6,1596.9 L206.0,1597.1 L210.6,1595.0 L213.6,1594.9 L214.4,1594.1 L215.0,1592.5 L215.6,1589.4 L216.2,1584.1 L218.4,1551.0 L218.8,1547.1 L219.2,1545.8 L219.6,1547.2 L220.0,1551.2 L221.8,1581.6 L222.8,1593.2 L223.4,1597.0 L224.0,1599.0 L224.8,1600.3 L225.6,1600.6 L227.8,1600.4 L229.6,1600.5 L231.4,1600.4 L236.4,1600.9 L238.8,1600.4 L241.6,1601.5 L242.8,1601.7 L248.2,1601.1 L254.4,1601.5 L262.8,1601.2 L263.6,1600.9 L264.2,1600.4 L265.2,1598.9 L266.2,1596.5 L268.2,1590.5 L268.6,1589.8 L269.0,1589.5 L269.4,1590.6 L270.8,1598.8 L271.4,1600.6 L272.0,1601.4 L273.4,1601.9 L277.8,1602.5 L281.4,1602.3 L284.6,1603.4 L285.6,1603.3 L288.0,1602.6 L293.6,1602.4 L294.8,1601.7 L297.0,1599.3 L297.8,1598.8 L298.4,1599.1 L300.2,1601.7 L301.4,1602.4 L302.2,1602.4 L303.4,1601.9 L304.6,1601.2 L306.4,1599.8 L307.2,1599.5 L307.8,1599.8 L308.8,1601.6 L309.4,1602.3 L310.0,1602.6 L311.4,1602.9 L313.8,1603.0 L318.0,1602.4 L318.8,1602.1 L320.4,1601.0 L321.0,1600.8 L321.6,1601.0 L323.0,1602.4 L323.8,1602.7 L328.2,1602.9 L333.4,1603.3 L334.0,1603.2 L334.8,1602.7 L338.4,1598.6 L339.4,1598.1 L339.8,1598.2 L340.0,1598.6 L341.4,1602.1 L342.0,1602.6 L342.6,1602.8 L345.2,1602.9 L347.2,1602.7 L349.6,1603.2 L352.4,1602.6 L354.4,1603.1 L355.4,1603.1 L357.8,1602.2 L360.2,1600.5 L361.2,1600.1 L361.8,1600.4 L363.0,1602.0 L364.0,1602.5 L365.0,1602.3 L367.6,1600.9 L368.4,1600.7 L370.0,1602.6 L371.0,1603.1 L372.6,1603.1 L375.0,1603.5 L379.0,1603.2 L381.0,1603.5 L387.0,1603.5 L389.0,1603.1 L390.8,1602.4 L391.8,1601.6 L393.6,1599.8 L394.4,1599.4 L394.8,1599.7 L396.2,1602.7 L397.2,1603.8 L398.2,1604.0 L400.4,1603.7 L402.6,1604.0 L405.0,1603.6 L407.4,1603.7 L408.6,1603.3 L409.8,1601.7 L411.8,1597.6 L412.6,1597.0 L413.0,1597.3 L414.2,1601.1 L414.8,1602.2 L415.6,1602.8 L419.0,1604.0 L420.6,1604.2 L423.4,1603.8 L425.8,1604.3 L429.2,1603.3 L431.2,1603.8 L436.0,1604.2 L440.0,1603.2 L441.6,1603.5 L443.8,1604.4 L444.6,1604.5 L446.0,1604.1 L449.6,1602.3 L452.2,1599.8 L453.2,1599.2 L453.8,1599.3 L455.2,1601.3 L455.8,1601.8 L456.4,1601.8 L457.0,1601.3 L458.0,1599.6 L458.8,1597.4 L461.4,1585.3 L461.8,1584.1 L462.2,1583.7 L462.6,1585.4 L464.0,1598.3 L464.6,1601.0 L465.4,1602.4 L466.8,1603.1 L469.4,1603.5 L471.8,1604.1 L474.8,1604.1 L477.2,1604.7 L479.2,1604.5 L483.6,1605.2 L484.6,1605.1 L487.6,1604.3 L489.8,1604.4 L491.0,1604.2 L492.4,1603.6 L495.2,1601.8 L496.2,1601.5 L496.6,1601.8 L497.8,1603.5 L498.8,1604.0 L502.2,1604.3 L505.0,1604.0 L508.0,1604.7 L512.4,1604.0 L515.0,1604.1 L516.2,1603.7 L518.8,1601.7 L519.6,1601.4 L520.0,1601.7 L521.4,1603.7 L522.2,1604.2 L523.8,1604.4 L526.8,1604.0 L528.0,1603.5 L529.0,1602.4 L530.2,1600.3 L532.0,1596.5 L532.6,1595.7 L533.0,1595.6 L533.4,1596.3 L534.8,1602.2 L535.2,1603.1 L535.8,1603.9 L537.0,1604.3 L540.6,1604.4 L545.4,1605.3 L547.8,1604.6 L549.8,1604.6 L552.2,1603.4 L553.2,1603.2 L553.8,1603.3 L555.2,1604.6 L556.0,1605.0 L557.0,1605.1 L558.6,1604.8 L562.8,1603.2 L563.8,1602.2 L565.6,1599.6 L566.4,1599.2 L566.6,1599.2 L567.0,1600.0 L568.2,1603.4 L569.0,1604.4 L569.8,1604.7 L574.6,1605.2 L577.8,1605.0 L580.0,1604.4 L581.8,1604.4 L585.4,1603.1 L586.0,1603.2 L587.6,1604.4 L588.6,1604.7 L591.6,1604.3 L596.6,1604.0 L597.6,1603.7 L598.4,1603.1 L600.4,1600.4 L601.2,1599.9 L601.4,1599.9 L601.8,1600.5 L603.2,1603.9 L603.6,1604.4 L604.2,1604.7 L606.4,1604.7 L609.0,1605.1 L612.0,1604.6 L615.2,1605.3 L619.2,1604.5 L622.4,1605.0 L623.6,1604.6 L626.0,1602.1 L627.0,1601.5 L627.6,1601.6 L628.8,1603.5 L629.6,1604.1 L630.4,1604.2 L632.2,1603.7 L634.2,1603.7 L635.2,1603.0 L637.2,1600.5 L638.0,1600.1 L638.4,1600.6 L639.6,1603.1 L640.2,1603.8 L641.6,1604.6 L643.6,1605.1 L645.0,1605.1 L647.4,1604.5 L650.0,1605.3 L650.8,1605.3 L651.6,1605.1 L654.2,1603.7 L655.2,1603.4 L655.6,1603.5 L657.0,1604.7 L657.8,1605.0 L659.0,1605.1 L661.4,1604.6 L662.6,1604.5 L663.8,1604.7 L666.2,1605.7 L667.8,1605.9 L669.8,1605.1 L673.2,1602.7 L674.2,1602.4 L674.8,1602.7 L676.0,1604.6 L677.0,1605.2 L679.0,1605.2 L681.6,1605.7 L683.8,1605.1 L685.8,1605.3 L688.0,1604.8 L690.6,1605.7 L695.0,1605.6 L697.8,1606.6 L698.6,1606.6 L701.6,1605.6 L704.8,1605.5 L706.0,1605.1 L707.4,1603.6 L710.0,1599.2 L710.8,1598.6 L711.2,1598.9 L712.4,1602.7 L713.0,1603.9 L713.8,1604.6 L714.8,1604.9 L717.0,1605.2 L719.0,1605.7 L722.6,1605.2 L723.8,1604.5 L725.8,1602.0 L726.6,1601.5 L727.0,1601.9 L728.6,1605.1 L729.2,1605.6 L729.8,1605.9 L735.6,1605.7 L738.4,1604.8 L739.0,1605.0 L740.4,1606.2 L741.2,1606.5 L742.6,1606.5 L745.8,1605.8 L748.6,1606.8 L749.6,1607.0 L752.0,1606.8 L755.2,1606.0 L759.2,1606.6 L764.6,1605.8 L770.4,1606.4 L773.0,1606.3 L775.4,1606.8 L778.0,1606.0 L779.0,1605.9 L782.0,1606.3 L788.0,1606.5 L790.2,1606.8 L791.2,1606.7 L793.8,1605.8 L797.8,1606.4 L800.2,1606.1 L802.2,1606.3 L803.0,1606.0 L805.2,1604.6 L807.6,1602.4 L808.4,1602.1 L809.0,1602.5 L810.6,1605.5 L811.6,1606.4 L814.4,1606.7 L817.0,1606.4 L819.4,1606.9 L822.0,1606.5 L824.4,1606.6 L826.4,1606.4 L829.0,1606.6 L832.2,1605.3 L835.4,1606.5 L838.4,1606.3 L840.8,1606.9 L843.2,1606.6 L849.0,1606.9 L851.6,1606.6 L854.0,1606.9 L860.0,1606.4 L862.2,1606.6 L864.8,1606.1 L865.8,1606.3 L867.8,1607.2 L868.6,1607.3 L871.0,1607.0 L873.8,1607.4 L879.4,1606.6 L882.6,1606.9 L885.2,1606.7 L889.2,1606.6 L891.8,1607.2 L895.4,1605.8 L898.4,1604.0 L899.4,1603.8 L900.0,1604.2 L901.8,1606.6 L902.8,1607.1 L904.0,1607.3 L908.0,1606.6 L911.4,1607.3 L913.6,1606.3 L914.4,1606.2 L916.6,1607.2 L917.6,1607.4 L919.6,1607.3 L922.8,1606.9 L926.0,1607.2 L930.8,1606.3 L934.6,1606.7 L938.0,1606.4 L941.2,1606.9 L943.4,1606.9 L946.0,1607.6 L949.6,1606.7 L954.8,1607.4 L958.0,1606.9 L967.8,1607.2 L972.2,1606.9 L975.0,1607.4 L977.6,1606.9 L983.4,1607.0 L986.6,1607.4 L989.8,1607.1 L991.8,1607.5 L994.2,1607.2 L999.4,1607.3 L1003.0,1606.7 L1007.6,1607.3 L1009.8,1606.9 L1013.2,1606.6 L1016.2,1607.4 L1019.4,1606.8 L1024.2,1607.4 L1027.0,1607.4 L1029.0,1607.7 L1031.8,1607.2 L1033.8,1607.2 L1035.6,1606.9 L1038.2,1607.5 L1041.6,1607.5 L1044.0,1607.2 L1048.2,1608.1 L1050.4,1607.6 L1055.6,1607.8 L1058.6,1607.3 L1060.6,1607.2 L1063.6,1607.5 L1065.6,1607.3 L1067.8,1607.5 L1069.8,1607.4 L1074.2,1608.1 L1077.2,1607.5 L1079.8,1607.8 L1082.6,1607.7 L1086.8,1608.1 L1095.4,1606.8 L1098.6,1607.6 L1100.4,1607.8 L1102.4,1607.7 L1104.6,1607.4 L1106.8,1607.6 L1110.6,1607.3 L1113.2,1607.6 L1116.0,1607.5 L1118.6,1607.6 L1121.6,1607.2 L1125.0,1607.8 L1128.6,1607.3 L1131.0,1607.6 L1133.4,1607.4 L1135.6,1607.7 L1137.4,1607.5 L1139.2,1607.7 L1143.2,1607.1 L1144.2,1607.3 L1146.0,1608.2 L1146.8,1608.4 L1152.4,1607.6 L1158.0,1607.9 L1160.2,1607.4 L1162.6,1607.4 L1165.6,1606.9 L1169.6,1607.4 L1172.4,1606.9 L1175.0,1607.5 L1178.6,1607.6 L1180.6,1607.2 L1183.2,1607.5 L1186.6,1607.1 L1190.4,1607.2 L1192.2,1607.0 L1194.0,1607.1 L1196.2,1606.8 L1207.2,1608.0 L1208.4,1607.9 L1210.8,1607.2 L1216.6,1607.3 L1220.8,1607.9 L1226.6,1607.3 L1229.2,1607.9 L1232.2,1608.1 L1235.8,1607.4 L1238.2,1607.7 L1240.8,1608.2 L1244.6,1607.5 L1248.4,1607.8 L1252.0,1607.7 L1254.2,1607.4 L1258.4,1607.6 L1261.0,1608.1 L1263.8,1607.1 L1266.6,1607.8 L1270.4,1607.8 L1273.0,1608.5 L1277.6,1607.4 L1281.2,1607.8 L1284.2,1607.7 L1286.8,1608.1 L1289.6,1607.5 L1295.2,1608.4 L1300.6,1607.6 L1303.0,1607.6 L1305.2,1607.9 L1308.8,1607.9 L1311.8,1607.5 L1314.8,1607.8 L1317.8,1606.8 L1322.0,1607.9 L1325.0,1607.5 L1328.0,1608.3 L1331.4,1607.3 L1336.0,1608.1 L1339.0,1607.4 L1341.8,1607.9 L1346.4,1607.8 L1348.8,1608.4 L1351.2,1608.1 L1353.8,1608.3 L1356.2,1607.6 L1358.6,1608.2 L1361.4,1607.8 L1365.6,1607.9 L1369.0,1608.7 L1372.0,1608.4" stroke="#B77B00"/>
<path d="M139.5,1837.9 L141.1,1842.1 L143.9,1846.5 L146.7,1851.8 L151.9,1859.0 L153.3,1859.9 L155.3,1860.7 L157.5,1862.0 L159.9,1863.0 L162.7,1863.8 L168.3,1864.4 L174.7,1865.4 L175.9,1865.2 L178.9,1864.1 L182.9,1864.2 L185.3,1863.3 L187.9,1863.1 L190.5,1861.8 L192.5,1860.4 L193.5,1859.4 L194.5,1857.9 L195.5,1855.8 L197.1,1850.3 L198.3,1843.0 L199.3,1832.6 L200.1,1818.6 L201.5,1773.2 L203.3,1682.7 L203.7,1672.2 L203.9,1670.7 L204.3,1690.4 L205.5,1810.5 L206.1,1838.1 L206.5,1846.6 L206.9,1850.9 L207.5,1854.1 L208.5,1856.3 L210.3,1858.0 L212.7,1859.3 L214.1,1859.1 L215.1,1858.2 L215.9,1856.5 L216.7,1853.0 L217.7,1844.1 L218.5,1831.6 L220.9,1770.6 L221.3,1763.3 L221.7,1759.9 L221.9,1760.3 L222.3,1771.0 L223.5,1833.3 L223.9,1847.5 L224.5,1859.3 L225.1,1863.9 L225.5,1865.1 L225.9,1865.7 L226.9,1866.3 L231.7,1867.8 L234.7,1867.9 L238.9,1868.6 L243.1,1868.3 L247.5,1869.2 L250.3,1869.1 L253.1,1869.6 L254.3,1869.5 L256.7,1869.1 L259.5,1870.0 L260.7,1870.2 L261.9,1869.9 L265.1,1868.8 L268.3,1866.0 L269.1,1865.6 L269.5,1866.0 L270.7,1868.5 L271.3,1869.2 L272.1,1869.7 L275.5,1871.0 L276.7,1871.0 L278.9,1870.4 L281.9,1870.2 L285.1,1871.1 L288.9,1870.9 L293.3,1870.2 L296.9,1870.7 L298.9,1870.3 L301.1,1870.2 L304.9,1868.5 L306.1,1867.0 L308.3,1861.8 L308.7,1861.2 L309.1,1861.0 L309.5,1861.8 L310.9,1868.4 L311.5,1869.8 L312.1,1870.3 L315.7,1870.6 L316.7,1870.3 L318.1,1868.7 L320.5,1864.5 L321.3,1863.9 L321.7,1864.5 L323.1,1869.1 L323.7,1870.0 L324.5,1870.6 L326.9,1871.4 L330.9,1870.7 L333.1,1871.0 L335.9,1871.0 L336.9,1870.8 L338.9,1869.6 L340.7,1868.8 L341.7,1867.9 L342.9,1865.2 L344.9,1858.0 L345.3,1857.2 L345.7,1856.8 L346.1,1858.0 L347.5,1867.0 L348.1,1868.9 L348.9,1870.1 L349.7,1870.5 L352.3,1870.7 L355.1,1871.6 L357.5,1871.2 L359.7,1871.3 L361.7,1870.9 L364.5,1871.8 L368.9,1871.0 L370.7,1870.8 L371.9,1871.0 L374.3,1871.7 L376.3,1871.3 L379.1,1871.3 L382.3,1871.9 L386.5,1871.4 L390.9,1872.1 L398.1,1871.5 L401.5,1871.9 L402.7,1871.6 L404.7,1870.5 L406.7,1869.9 L409.1,1867.4 L409.9,1867.0 L410.5,1867.6 L411.5,1870.0 L412.1,1871.0 L412.9,1871.6 L413.9,1871.9 L416.3,1871.5 L421.1,1871.7 L423.3,1871.2 L425.5,1871.2 L426.3,1870.9 L428.5,1869.7 L429.3,1869.5 L431.3,1871.1 L432.5,1871.6 L436.3,1871.3 L438.3,1870.0 L438.9,1869.8 L440.5,1871.5 L441.7,1872.0 L443.3,1872.0 L445.7,1871.6 L448.3,1872.0 L450.9,1871.7 L452.9,1871.9 L455.1,1871.1 L456.9,1870.7 L457.7,1870.2 L459.1,1868.4 L461.3,1864.6 L462.1,1863.8 L462.3,1863.9 L462.7,1864.8 L464.1,1869.7 L464.7,1870.7 L465.3,1871.1 L466.1,1871.0 L466.9,1870.5 L470.3,1866.6 L471.1,1866.1 L471.5,1866.6 L472.7,1869.4 L473.3,1870.2 L474.3,1870.9 L477.3,1872.1 L478.3,1872.1 L480.3,1871.4 L482.9,1870.9 L484.1,1870.2 L485.9,1868.6 L486.5,1868.4 L486.9,1868.6 L488.3,1871.1 L488.9,1871.6 L489.5,1871.8 L491.3,1871.9 L494.1,1871.3 L497.1,1872.3 L498.5,1872.5 L502.3,1871.7 L503.3,1871.8 L505.3,1872.6 L506.5,1872.8 L512.3,1872.1 L514.3,1872.3 L516.5,1872.2 L519.1,1872.7 L522.9,1871.8 L527.1,1871.8 L528.1,1871.4 L530.5,1870.0 L532.9,1867.1 L533.7,1866.6 L534.1,1867.1 L535.3,1870.0 L535.9,1870.9 L536.5,1871.3 L539.5,1872.2 L542.7,1872.0 L545.9,1872.6 L549.1,1871.8 L552.3,1872.5 L555.9,1872.6 L560.3,1872.3 L566.1,1872.7 L568.7,1872.0 L570.3,1871.9 L575.1,1872.0 L579.5,1872.6 L582.3,1872.1 L585.5,1872.8 L587.5,1872.5 L590.3,1872.3 L595.1,1872.4 L597.7,1871.9 L602.7,1872.9 L605.3,1872.3 L609.9,1872.6 L614.9,1872.1 L618.3,1872.5 L620.5,1872.4 L622.9,1873.0 L624.9,1872.3 L627.1,1872.6 L629.5,1872.0 L633.1,1872.9 L636.9,1872.2 L639.7,1872.6 L642.1,1872.2 L646.1,1872.4 L648.9,1872.9 L652.1,1872.5 L654.5,1872.0 L657.1,1872.2 L659.9,1872.0 L664.3,1872.5 L667.3,1872.4 L670.3,1871.8 L672.1,1871.3 L674.3,1871.6 L681.9,1871.2 L684.1,1871.3 L686.5,1871.1 L687.5,1871.3 L689.5,1872.3 L690.3,1872.4 L695.7,1872.3 L697.7,1872.0 L699.5,1872.2 L701.3,1872.1 L706.3,1873.0 L708.9,1872.7 L711.1,1873.1 L713.3,1872.8 L715.5,1873.1 L718.1,1872.9 L722.1,1873.8 L725.5,1873.0 L728.1,1873.7 L728.9,1873.8 L731.3,1872.9 L732.5,1872.8 L736.7,1873.5 L739.3,1873.5 L741.1,1873.9 L744.3,1873.6 L746.5,1873.9 L748.7,1874.3 L750.7,1874.1 L752.5,1874.3 L754.7,1874.0 L756.9,1874.1 L759.9,1874.0 L767.3,1874.5 L770.9,1874.4 L777.1,1875.1 L778.3,1874.9 L780.3,1874.2 L781.3,1874.1 L783.7,1874.1 L786.1,1874.5 L789.9,1874.6 L795.7,1874.2 L799.1,1874.5 L801.7,1874.2 L804.1,1874.4 L805.7,1873.9 L808.5,1872.3 L809.7,1871.9 L810.3,1872.3 L811.7,1874.0 L812.7,1874.5 L815.3,1874.3 L818.3,1874.9 L820.5,1874.8 L823.5,1875.0 L826.1,1874.8 L828.7,1875.4 L832.7,1874.6 L835.3,1874.9 L837.5,1874.6 L840.3,1874.9 L845.1,1874.6 L849.1,1875.2 L851.7,1875.0 L853.9,1875.3 L857.7,1874.3 L861.1,1875.0 L863.3,1875.1 L865.3,1875.0 L868.7,1875.4 L871.5,1875.0 L873.7,1874.9 L877.9,1875.7 L880.9,1874.8 L882.5,1874.6 L886.3,1874.6 L888.5,1874.8 L892.1,1874.7 L895.5,1875.2 L899.7,1874.9 L902.7,1875.3 L905.5,1874.7 L907.7,1875.1 L910.5,1875.3 L917.7,1874.7 L919.9,1875.0 L922.1,1874.9 L924.7,1875.2 L927.5,1874.8 L930.1,1875.1 L934.3,1875.2 L938.5,1874.6 L946.5,1875.4 L948.3,1875.4 L950.9,1874.9 L953.7,1875.5 L959.1,1875.4 L961.1,1875.6 L967.3,1874.6 L971.9,1875.6 L974.9,1875.0 L977.7,1874.8 L979.9,1874.9 L982.7,1874.3 L985.3,1874.5 L988.7,1875.1 L992.9,1874.6 L996.1,1875.3 L999.7,1875.5 L1003.5,1874.7 L1006.7,1875.4 L1009.5,1874.9 L1012.1,1875.5 L1014.9,1875.1 L1018.9,1875.0 L1021.7,1875.7 L1023.1,1875.8 L1024.5,1875.7 L1027.1,1875.0 L1028.7,1875.1 L1030.9,1874.9 L1038.1,1875.5 L1043.7,1875.1 L1048.5,1875.6 L1052.1,1875.2 L1054.3,1874.8 L1058.1,1875.7 L1059.3,1875.6 L1062.1,1875.0 L1066.1,1875.8 L1069.3,1875.3 L1073.3,1875.8 L1076.3,1875.0 L1078.7,1875.0 L1081.1,1874.9 L1087.1,1875.7 L1089.9,1875.7 L1092.3,1876.1 L1095.3,1876.1 L1097.7,1875.6 L1099.7,1875.4 L1103.3,1875.5 L1105.3,1876.0 L1107.3,1875.9 L1109.1,1876.1 L1111.5,1876.2 L1114.7,1875.7 L1118.1,1875.9 L1124.5,1875.3 L1126.5,1875.4 L1130.7,1876.0 L1133.1,1875.8 L1135.7,1875.9 L1138.7,1875.4 L1142.1,1876.3 L1143.7,1876.4 L1147.7,1875.7 L1150.7,1876.1 L1153.9,1875.4 L1156.9,1876.0 L1159.7,1875.4 L1161.9,1875.7 L1164.1,1875.1 L1166.9,1876.1 L1168.5,1875.9 L1170.5,1876.2 L1173.9,1875.8 L1179.5,1876.2 L1182.1,1875.5 L1183.1,1875.4 L1186.7,1875.4 L1189.3,1876.1 L1191.7,1876.3 L1195.5,1876.2 L1198.7,1875.4 L1201.9,1875.1 L1205.1,1875.8 L1208.7,1875.6 L1211.1,1875.9 L1213.3,1875.8 L1216.9,1876.0 L1219.7,1875.8 L1222.9,1875.3 L1229.3,1875.5 L1231.9,1876.2 L1234.3,1875.8 L1241.1,1876.2 L1246.1,1875.9 L1248.3,1876.0 L1250.9,1875.5 L1253.7,1875.9 L1257.1,1875.2 L1258.3,1875.4 L1260.7,1876.3 L1261.5,1876.4 L1263.9,1875.7 L1266.1,1875.6 L1270.1,1875.9 L1273.5,1875.1 L1276.1,1876.1 L1278.3,1876.1 L1281.1,1876.9 L1283.7,1876.3 L1285.9,1876.4 L1288.7,1875.6 L1289.5,1875.7 L1291.3,1876.3 L1293.5,1875.8 L1296.1,1876.0 L1300.5,1875.6 L1303.5,1876.2 L1306.5,1875.3 L1310.9,1876.0 L1315.3,1876.2 L1318.7,1876.0 L1323.5,1876.3 L1325.1,1876.1 L1328.1,1875.5 L1332.7,1875.7 L1339.1,1876.6 L1341.7,1876.1 L1344.5,1876.4 L1346.9,1876.0 L1349.1,1876.1 L1351.3,1875.9 L1354.1,1876.2 L1359.3,1875.8 L1361.9,1876.0 L1363.7,1875.9 L1366.3,1876.3 L1368.9,1876.1 L1371.9,1875.3" stroke="#FE8517"/>
</g>
<g filter="url(#b)">
<line x1="859.8" y1="96.5" x2="1000.2" y2="96.5" stroke="#000000" stroke-width="9.5" stroke-linecap="round"/>
<text transform="translate(1017.7,117.8) scale(1,1.030)" font-size="62.5">UiO-66</text>
<line x1="853.8" y1="348.5" x2="994.5" y2="348.5" stroke="#EA0000" stroke-width="9.5" stroke-linecap="round"/>
<text transform="translate(1013.2,369.6) scale(1,1.030)" font-size="62.5">Au<tspan dx="-1.7" dy="3.8" font-size="67">@</tspan><tspan dx="-1.5" dy="-3.8">UiO-66</tspan></text>
<line x1="852.8" y1="625.3" x2="993.2" y2="625.3" stroke="#0000FF" stroke-width="9.5" stroke-linecap="round"/>
<text transform="translate(1010.7,646.5) scale(1,1.030)" font-size="62.5">Cu<tspan dx="-1.7" dy="3.8" font-size="67">@</tspan><tspan dx="-1.5" dy="-3.8">UiO-66</tspan></text>
<line x1="855.8" y1="887.0" x2="996.2" y2="887.0" stroke="#940082" stroke-width="9.5" stroke-linecap="round"/>
<text transform="translate(1014.0,908.6) scale(1,1.030)" font-size="62.5">Ag<tspan dx="-1.7" dy="3.8" font-size="67">@</tspan><tspan dx="-1.5" dy="-3.8">UiO-66</tspan></text>
<line x1="857.8" y1="1166.8" x2="998.2" y2="1166.8" stroke="#008000" stroke-width="9.5" stroke-linecap="round"/>
<text transform="translate(1016.1,1188.8) scale(1,1.030)" font-size="62.5">Pd<tspan dx="-1.7" dy="3.8" font-size="67">@</tspan><tspan dx="-1.5" dy="-3.8">UiO-66</tspan></text>
<line x1="871.8" y1="1433.5" x2="1012.2" y2="1433.5" stroke="#B77B00" stroke-width="9.5" stroke-linecap="round"/>
<text transform="translate(1030.0,1455.8) scale(1,1.030)" font-size="62.5">Pt<tspan dx="-1.7" dy="3.8" font-size="67">@</tspan><tspan dx="-1.5" dy="-3.8">UiO-66</tspan></text>
<line x1="876.8" y1="1684.5" x2="1017.2" y2="1684.5" stroke="#FE8517" stroke-width="9.5" stroke-linecap="round"/>
<text transform="translate(1036.1,1706.0) scale(1,1.030)" font-size="62.5">Ni<tspan dx="-1.7" dy="3.8" font-size="67">@</tspan><tspan dx="-1.5" dy="-3.8">UiO-66</tspan></text>
<text transform="translate(239.9,1972.4) scale(1,1.030)" font-size="51" text-anchor="middle">10</text>
<text transform="translate(381.3,1972.4) scale(1,1.030)" font-size="51" text-anchor="middle">20</text>
<text transform="translate(522.7,1972.4) scale(1,1.030)" font-size="51" text-anchor="middle">30</text>
<text transform="translate(664.1,1972.4) scale(1,1.030)" font-size="51" text-anchor="middle">40</text>
<text transform="translate(805.5,1972.4) scale(1,1.030)" font-size="51" text-anchor="middle">50</text>
<text transform="translate(946.9,1972.4) scale(1,1.030)" font-size="51" text-anchor="middle">60</text>
<text transform="translate(1088.4,1972.4) scale(1,1.030)" font-size="51" text-anchor="middle">70</text>
<text transform="translate(1229.8,1972.4) scale(1,1.030)" font-size="51" text-anchor="middle">80</text>
<text transform="translate(1371.2,1972.4) scale(1,1.030)" font-size="51" text-anchor="middle">90</text>
<text transform="translate(756.0,2069.8) scale(1,1.015)" font-size="63" text-anchor="middle">2 Theta (degree)</text>
<text transform="translate(78.0,926.0) rotate(-90) scale(1,1.025)" font-size="63" text-anchor="middle">Intensity (A.U.)</text>
</g>
</svg></body></html>
